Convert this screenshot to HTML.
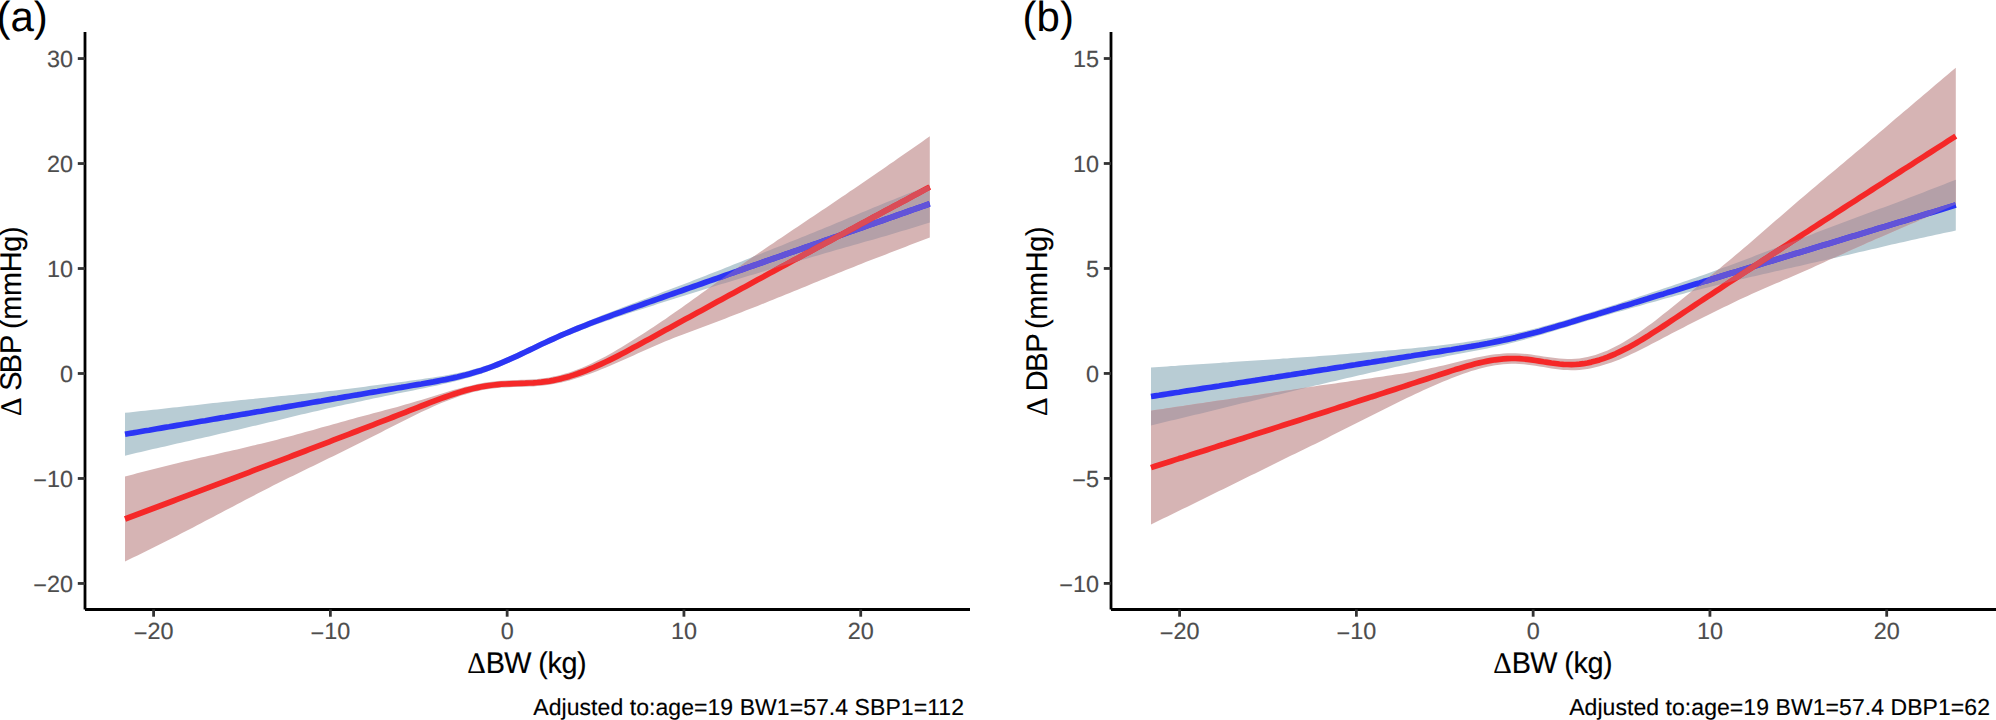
<!DOCTYPE html>
<html><head><meta charset="utf-8"><title>Figure</title>
<style>
html,body{margin:0;padding:0;background:#fff;}
body{width:1996px;height:720px;overflow:hidden;}
svg{display:block;text-rendering:geometricPrecision;}
text{font-family:"Liberation Sans",Arial,Helvetica,sans-serif;}
.ax{stroke:#000;stroke-width:2.8;stroke-linecap:butt;}
.tk{stroke:#333;stroke-width:2.8;stroke-linecap:butt;}
.yl{font-size:23.4px;fill:#4d4d4d;text-anchor:end;stroke:#4d4d4d;stroke-width:0.15px;}
.xl{font-size:23.4px;fill:#4d4d4d;text-anchor:middle;stroke:#4d4d4d;stroke-width:0.15px;}
.rb{fill:#4a7d95;fill-opacity:0.4;stroke:none;}
.rr{fill:#994444;fill-opacity:0.4;stroke:none;}
.lb{fill:none;stroke:#2b35f5;stroke-width:5.7;stroke-linejoin:round;stroke-linecap:butt;}
.lr{fill:none;stroke:#f52828;stroke-width:5.7;stroke-linejoin:round;stroke-linecap:butt;}
.tt{font-size:28.8px;fill:#000;stroke:#000;stroke-width:0.15px;}
.cap{font-size:23.0px;fill:#000;text-anchor:end;letter-spacing:0.06px;stroke:#000;stroke-width:0.15px;}
.tag{font-size:42.0px;fill:#000;}
</style></head>
<body>
<svg width="1996" height="720" viewBox="0 0 1996 720">
<defs><clipPath id="cba"><polygon points="125.0,412.8 129.0,412.4 133.0,412.0 137.0,411.5 141.0,411.1 145.0,410.7 149.0,410.3 153.0,409.8 157.0,409.4 161.0,409.0 165.0,408.5 169.0,408.1 173.0,407.6 177.1,407.2 181.1,406.7 185.1,406.3 189.1,405.8 193.1,405.4 197.1,404.9 201.1,404.5 205.1,404.0 209.1,403.6 213.1,403.1 217.1,402.7 221.1,402.3 225.1,401.8 229.1,401.4 233.1,401.0 237.1,400.6 241.1,400.1 245.1,399.7 249.1,399.3 253.1,398.9 257.1,398.5 261.1,398.1 265.1,397.7 269.1,397.3 273.1,396.9 277.2,396.5 281.2,396.1 285.2,395.7 289.2,395.3 293.2,394.9 297.2,394.5 301.2,394.1 305.2,393.7 309.2,393.3 313.2,392.9 317.2,392.4 321.2,392.0 325.2,391.6 329.2,391.1 333.2,390.7 337.2,390.2 341.2,389.7 345.2,389.2 349.2,388.7 353.2,388.2 357.2,387.7 361.2,387.2 365.2,386.7 369.2,386.1 373.2,385.6 377.3,385.1 381.3,384.6 385.3,384.0 389.3,383.5 393.3,383.0 397.3,382.5 401.3,381.9 405.3,381.4 409.3,380.8 413.3,380.3 417.3,379.8 421.3,379.2 425.3,378.6 429.3,378.1 433.3,377.5 437.3,376.8 441.3,376.2 445.3,375.5 449.3,374.8 453.3,374.0 457.3,373.2 461.3,372.3 465.3,371.4 469.3,370.4 473.3,369.3 477.4,368.2 481.4,367.0 485.4,365.7 489.4,364.4 493.4,362.9 497.4,361.4 501.4,359.8 505.4,358.1 509.4,356.4 513.4,354.6 517.4,352.7 521.4,350.9 525.4,349.0 529.4,347.1 533.4,345.2 537.4,343.3 541.4,341.4 545.4,339.5 549.4,337.6 553.4,335.8 557.4,334.0 561.4,332.2 565.4,330.4 569.4,328.7 573.4,327.0 577.4,325.3 581.5,323.7 585.5,322.0 589.5,320.4 593.5,318.8 597.5,317.2 601.5,315.6 605.5,314.0 609.5,312.5 613.5,310.9 617.5,309.4 621.5,307.8 625.5,306.3 629.5,304.8 633.5,303.3 637.5,301.7 641.5,300.2 645.5,298.7 649.5,297.2 653.5,295.7 657.5,294.2 661.5,292.6 665.5,291.1 669.5,289.6 673.5,288.1 677.5,286.5 681.6,285.0 685.6,283.4 689.6,281.9 693.6,280.3 697.6,278.8 701.6,277.2 705.6,275.7 709.6,274.1 713.6,272.5 717.6,270.9 721.6,269.4 725.6,267.8 729.6,266.2 733.6,264.6 737.6,263.0 741.6,261.4 745.6,259.8 749.6,258.2 753.6,256.6 757.6,255.0 761.6,253.4 765.6,251.8 769.6,250.2 773.6,248.6 777.6,247.0 781.7,245.4 785.7,243.7 789.7,242.1 793.7,240.5 797.7,238.9 801.7,237.3 805.7,235.7 809.7,234.1 813.7,232.4 817.7,230.8 821.7,229.2 825.7,227.5 829.7,225.9 833.7,224.2 837.7,222.6 841.7,220.9 845.7,219.3 849.7,217.6 853.7,215.9 857.7,214.2 861.7,212.6 865.7,210.9 869.7,209.2 873.7,207.6 877.7,205.9 881.8,204.3 885.8,202.6 889.8,201.0 893.8,199.4 897.8,197.8 901.8,196.2 905.8,194.6 909.8,193.0 913.8,191.4 917.8,189.8 921.8,188.2 925.8,186.6 929.8,185.0 929.8,222.6 925.8,223.8 921.8,225.1 917.8,226.3 913.8,227.5 909.8,228.7 905.8,229.9 901.8,231.1 897.8,232.3 893.8,233.5 889.8,234.7 885.8,235.9 881.8,237.0 877.7,238.2 873.7,239.4 869.7,240.5 865.7,241.6 861.7,242.8 857.7,243.9 853.7,245.0 849.7,246.2 845.7,247.3 841.7,248.4 837.7,249.6 833.7,250.7 829.7,251.9 825.7,253.0 821.7,254.2 817.7,255.4 813.7,256.5 809.7,257.7 805.7,258.9 801.7,260.1 797.7,261.3 793.7,262.5 789.7,263.7 785.7,264.8 781.7,266.0 777.6,267.2 773.6,268.4 769.6,269.6 765.6,270.8 761.6,272.0 757.6,273.2 753.6,274.4 749.6,275.6 745.6,276.8 741.6,278.0 737.6,279.2 733.6,280.4 729.6,281.7 725.6,282.9 721.6,284.1 717.6,285.3 713.6,286.5 709.6,287.7 705.6,289.0 701.6,290.2 697.6,291.5 693.6,292.7 689.6,294.0 685.6,295.2 681.6,296.5 677.5,297.7 673.5,299.0 669.5,300.3 665.5,301.5 661.5,302.8 657.5,304.1 653.5,305.4 649.5,306.7 645.5,308.0 641.5,309.2 637.5,310.5 633.5,311.8 629.5,313.1 625.5,314.5 621.5,315.8 617.5,317.1 613.5,318.5 609.5,319.9 605.5,321.3 601.5,322.7 597.5,324.1 593.5,325.6 589.5,327.0 585.5,328.6 581.5,330.1 577.4,331.7 573.4,333.3 569.4,334.9 565.4,336.6 561.4,338.3 557.4,340.0 553.4,341.8 549.4,343.6 545.4,345.4 541.4,347.3 537.4,349.2 533.4,351.1 529.4,353.1 525.4,355.0 521.4,356.9 517.4,358.8 513.4,360.6 509.4,362.5 505.4,364.3 501.4,366.0 497.4,367.7 493.4,369.3 489.4,370.8 485.4,372.3 481.4,373.7 477.4,375.0 473.3,376.3 469.3,377.5 465.3,378.6 461.3,379.7 457.3,380.7 453.3,381.7 449.3,382.7 445.3,383.6 441.3,384.5 437.3,385.4 433.3,386.2 429.3,387.1 425.3,387.9 421.3,388.7 417.3,389.5 413.3,390.4 409.3,391.2 405.3,392.0 401.3,392.8 397.3,393.6 393.3,394.5 389.3,395.3 385.3,396.1 381.3,397.0 377.3,397.8 373.2,398.6 369.2,399.5 365.2,400.3 361.2,401.2 357.2,402.0 353.2,402.9 349.2,403.7 345.2,404.6 341.2,405.4 337.2,406.3 333.2,407.2 329.2,408.1 325.2,409.0 321.2,409.9 317.2,410.9 313.2,411.8 309.2,412.7 305.2,413.7 301.2,414.6 297.2,415.6 293.2,416.5 289.2,417.5 285.2,418.5 281.2,419.4 277.2,420.4 273.1,421.4 269.1,422.3 265.1,423.3 261.1,424.2 257.1,425.2 253.1,426.1 249.1,427.1 245.1,428.0 241.1,429.0 237.1,429.9 233.1,430.8 229.1,431.8 225.1,432.7 221.1,433.6 217.1,434.6 213.1,435.5 209.1,436.4 205.1,437.3 201.1,438.2 197.1,439.1 193.1,440.0 189.1,440.9 185.1,441.8 181.1,442.7 177.1,443.6 173.0,444.5 169.0,445.4 165.0,446.4 161.0,447.3 157.0,448.2 153.0,449.1 149.0,450.0 145.0,451.0 141.0,451.9 137.0,452.8 133.0,453.8 129.0,454.7 125.0,455.7"/></clipPath><clipPath id="cra"><polygon points="125.0,476.5 129.0,475.4 133.0,474.4 137.0,473.3 141.0,472.3 145.0,471.2 149.0,470.2 153.0,469.2 157.0,468.2 161.0,467.2 165.0,466.2 169.0,465.2 173.0,464.2 177.1,463.2 181.1,462.3 185.1,461.3 189.1,460.4 193.1,459.5 197.1,458.5 201.1,457.6 205.1,456.7 209.1,455.8 213.1,454.9 217.1,454.0 221.1,453.0 225.1,452.1 229.1,451.2 233.1,450.3 237.1,449.4 241.1,448.4 245.1,447.5 249.1,446.6 253.1,445.6 257.1,444.6 261.1,443.7 265.1,442.7 269.1,441.7 273.1,440.7 277.2,439.7 281.2,438.6 285.2,437.6 289.2,436.5 293.2,435.4 297.2,434.3 301.2,433.2 305.2,432.1 309.2,431.0 313.2,429.9 317.2,428.8 321.2,427.6 325.2,426.5 329.2,425.4 333.2,424.3 337.2,423.2 341.2,422.0 345.2,420.9 349.2,419.8 353.2,418.7 357.2,417.6 361.2,416.5 365.2,415.5 369.2,414.4 373.2,413.3 377.3,412.2 381.3,411.2 385.3,410.1 389.3,409.0 393.3,407.9 397.3,406.9 401.3,405.7 405.3,404.6 409.3,403.5 413.3,402.3 417.3,401.1 421.3,399.9 425.3,398.7 429.3,397.5 433.3,396.2 437.3,395.0 441.3,393.7 445.3,392.5 449.3,391.3 453.3,390.1 457.3,389.0 461.3,387.9 465.3,386.8 469.3,385.9 473.3,384.9 477.4,384.1 481.4,383.3 485.4,382.6 489.4,382.0 493.4,381.5 497.4,381.1 501.4,380.8 505.4,380.6 509.4,380.3 513.4,380.2 517.4,380.0 521.4,379.8 525.4,379.7 529.4,379.4 533.4,379.2 537.4,378.9 541.4,378.5 545.4,378.0 549.4,377.4 553.4,376.6 557.4,375.7 561.4,374.7 565.4,373.6 569.4,372.4 573.4,371.0 577.4,369.5 581.5,367.9 585.5,366.3 589.5,364.5 593.5,362.6 597.5,360.6 601.5,358.5 605.5,356.4 609.5,354.2 613.5,351.9 617.5,349.6 621.5,347.2 625.5,344.8 629.5,342.3 633.5,339.8 637.5,337.3 641.5,334.8 645.5,332.2 649.5,329.6 653.5,326.9 657.5,324.3 661.5,321.6 665.5,318.9 669.5,316.1 673.5,313.3 677.5,310.5 681.6,307.7 685.6,304.8 689.6,301.9 693.6,299.1 697.6,296.2 701.6,293.3 705.6,290.4 709.6,287.6 713.6,284.7 717.6,281.8 721.6,279.0 725.6,276.2 729.6,273.3 733.6,270.5 737.6,267.7 741.6,264.9 745.6,262.1 749.6,259.3 753.6,256.5 757.6,253.8 761.6,251.0 765.6,248.3 769.6,245.6 773.6,242.9 777.6,240.1 781.7,237.4 785.7,234.7 789.7,232.0 793.7,229.3 797.7,226.7 801.7,224.0 805.7,221.3 809.7,218.6 813.7,215.9 817.7,213.2 821.7,210.6 825.7,207.9 829.7,205.2 833.7,202.5 837.7,199.8 841.7,197.1 845.7,194.4 849.7,191.6 853.7,188.9 857.7,186.2 861.7,183.4 865.7,180.7 869.7,178.0 873.7,175.2 877.7,172.4 881.8,169.7 885.8,166.9 889.8,164.1 893.8,161.4 897.8,158.6 901.8,155.8 905.8,153.0 909.8,150.3 913.8,147.5 917.8,144.7 921.8,141.9 925.8,139.1 929.8,136.3 929.8,237.5 925.8,239.0 921.8,240.6 917.8,242.1 913.8,243.6 909.8,245.1 905.8,246.7 901.8,248.2 897.8,249.7 893.8,251.3 889.8,252.8 885.8,254.4 881.8,255.9 877.7,257.5 873.7,259.0 869.7,260.6 865.7,262.1 861.7,263.7 857.7,265.3 853.7,266.9 849.7,268.5 845.7,270.1 841.7,271.7 837.7,273.3 833.7,274.9 829.7,276.5 825.7,278.2 821.7,279.8 817.7,281.4 813.7,283.1 809.7,284.7 805.7,286.4 801.7,288.0 797.7,289.7 793.7,291.3 789.7,292.9 785.7,294.6 781.7,296.2 777.6,297.8 773.6,299.5 769.6,301.1 765.6,302.7 761.6,304.3 757.6,305.9 753.6,307.5 749.6,309.1 745.6,310.6 741.6,312.2 737.6,313.8 733.6,315.3 729.6,316.8 725.6,318.4 721.6,319.9 717.6,321.4 713.6,322.9 709.6,324.4 705.6,325.9 701.6,327.4 697.6,328.9 693.6,330.4 689.6,331.9 685.6,333.4 681.6,334.9 677.5,336.5 673.5,338.1 669.5,339.7 665.5,341.3 661.5,343.0 657.5,344.7 653.5,346.4 649.5,348.2 645.5,350.0 641.5,351.8 637.5,353.6 633.5,355.4 629.5,357.3 625.5,359.1 621.5,360.8 617.5,362.6 613.5,364.3 609.5,366.0 605.5,367.7 601.5,369.3 597.5,370.9 593.5,372.4 589.5,373.9 585.5,375.3 581.5,376.7 577.4,378.0 573.4,379.2 569.4,380.4 565.4,381.5 561.4,382.4 557.4,383.3 553.4,384.1 549.4,384.8 545.4,385.3 541.4,385.7 537.4,386.1 533.4,386.4 529.4,386.6 525.4,386.7 521.4,386.8 517.4,387.0 513.4,387.1 509.4,387.2 505.4,387.4 501.4,387.6 497.4,388.0 493.4,388.4 489.4,388.9 485.4,389.5 481.4,390.3 477.4,391.2 473.3,392.1 469.3,393.2 465.3,394.4 461.3,395.6 457.3,397.0 453.3,398.4 449.3,399.9 445.3,401.5 441.3,403.1 437.3,404.8 433.3,406.6 429.3,408.4 425.3,410.2 421.3,412.1 417.3,414.1 413.3,416.0 409.3,418.0 405.3,420.0 401.3,422.0 397.3,424.0 393.3,426.0 389.3,428.1 385.3,430.1 381.3,432.2 377.3,434.2 373.2,436.2 369.2,438.3 365.2,440.3 361.2,442.3 357.2,444.3 353.2,446.3 349.2,448.3 345.2,450.3 341.2,452.3 337.2,454.2 333.2,456.2 329.2,458.1 325.2,460.1 321.2,462.0 317.2,464.0 313.2,465.9 309.2,467.8 305.2,469.8 301.2,471.7 297.2,473.7 293.2,475.7 289.2,477.6 285.2,479.6 281.2,481.6 277.2,483.6 273.1,485.6 269.1,487.7 265.1,489.7 261.1,491.8 257.1,493.8 253.1,495.9 249.1,498.0 245.1,500.1 241.1,502.2 237.1,504.3 233.1,506.4 229.1,508.5 225.1,510.6 221.1,512.7 217.1,514.8 213.1,516.9 209.1,519.0 205.1,521.1 201.1,523.2 197.1,525.3 193.1,527.4 189.1,529.5 185.1,531.5 181.1,533.6 177.1,535.7 173.0,537.7 169.0,539.7 165.0,541.8 161.0,543.8 157.0,545.8 153.0,547.8 149.0,549.7 145.0,551.7 141.0,553.7 137.0,555.7 133.0,557.6 129.0,559.6 125.0,561.6"/></clipPath><clipPath id="cbb"><polygon points="125.0,367.5 129.0,367.2 133.0,367.0 137.0,366.7 141.0,366.4 145.0,366.1 149.0,365.9 153.0,365.6 157.0,365.3 161.0,365.1 165.0,364.8 169.0,364.5 173.0,364.3 177.1,364.0 181.1,363.7 185.1,363.5 189.1,363.2 193.1,362.9 197.1,362.6 201.1,362.4 205.1,362.1 209.1,361.8 213.1,361.6 217.1,361.3 221.1,361.0 225.1,360.8 229.1,360.5 233.1,360.2 237.1,360.0 241.1,359.7 245.1,359.4 249.1,359.2 253.1,358.9 257.1,358.6 261.1,358.4 265.1,358.1 269.1,357.8 273.1,357.5 277.2,357.3 281.2,357.0 285.2,356.7 289.2,356.4 293.2,356.1 297.2,355.8 301.2,355.5 305.2,355.2 309.2,354.9 313.2,354.6 317.2,354.3 321.2,354.0 325.2,353.6 329.2,353.3 333.2,353.0 337.2,352.6 341.2,352.3 345.2,352.0 349.2,351.6 353.2,351.3 357.2,350.9 361.2,350.6 365.2,350.2 369.2,349.9 373.2,349.5 377.3,349.1 381.3,348.8 385.3,348.4 389.3,348.0 393.3,347.6 397.3,347.2 401.3,346.8 405.3,346.3 409.3,345.9 413.3,345.4 417.3,345.0 421.3,344.5 425.3,344.0 429.3,343.5 433.3,342.9 437.3,342.4 441.3,341.8 445.3,341.2 449.3,340.6 453.3,339.9 457.3,339.3 461.3,338.6 465.3,337.9 469.3,337.2 473.3,336.4 477.4,335.6 481.4,334.8 485.4,334.0 489.4,333.2 493.4,332.3 497.4,331.4 501.4,330.4 505.4,329.4 509.4,328.4 513.4,327.4 517.4,326.3 521.4,325.2 525.4,324.1 529.4,323.0 533.4,321.8 537.4,320.7 541.4,319.5 545.4,318.3 549.4,317.1 553.4,315.8 557.4,314.6 561.4,313.4 565.4,312.1 569.4,310.9 573.4,309.6 577.4,308.3 581.5,307.1 585.5,305.8 589.5,304.5 593.5,303.2 597.5,301.8 601.5,300.5 605.5,299.2 609.5,297.9 613.5,296.6 617.5,295.2 621.5,293.9 625.5,292.6 629.5,291.2 633.5,289.9 637.5,288.6 641.5,287.2 645.5,285.9 649.5,284.6 653.5,283.2 657.5,281.8 661.5,280.5 665.5,279.1 669.5,277.7 673.5,276.3 677.5,274.9 681.6,273.4 685.6,272.0 689.6,270.6 693.6,269.1 697.6,267.6 701.6,266.2 705.6,264.7 709.6,263.2 713.6,261.7 717.6,260.2 721.6,258.7 725.6,257.2 729.6,255.6 733.6,254.1 737.6,252.6 741.6,251.1 745.6,249.6 749.6,248.1 753.6,246.5 757.6,245.0 761.6,243.5 765.6,242.0 769.6,240.4 773.6,238.9 777.6,237.4 781.7,235.9 785.7,234.4 789.7,232.8 793.7,231.3 797.7,229.8 801.7,228.3 805.7,226.8 809.7,225.3 813.7,223.8 817.7,222.3 821.7,220.8 825.7,219.3 829.7,217.8 833.7,216.3 837.7,214.8 841.7,213.3 845.7,211.8 849.7,210.3 853.7,208.8 857.7,207.4 861.7,205.9 865.7,204.4 869.7,202.9 873.7,201.4 877.7,199.9 881.8,198.3 885.8,196.8 889.8,195.3 893.8,193.7 897.8,192.2 901.8,190.6 905.8,189.1 909.8,187.5 913.8,185.9 917.8,184.4 921.8,182.8 925.8,181.2 929.8,179.7 929.8,230.6 925.8,231.4 921.8,232.3 917.8,233.1 913.8,234.0 909.8,234.8 905.8,235.7 901.8,236.5 897.8,237.4 893.8,238.3 889.8,239.2 885.8,240.1 881.8,241.0 877.7,241.9 873.7,242.8 869.7,243.7 865.7,244.6 861.7,245.6 857.7,246.5 853.7,247.4 849.7,248.4 845.7,249.3 841.7,250.2 837.7,251.2 833.7,252.1 829.7,253.1 825.7,254.0 821.7,254.9 817.7,255.8 813.7,256.8 809.7,257.7 805.7,258.6 801.7,259.5 797.7,260.4 793.7,261.3 789.7,262.2 785.7,263.1 781.7,264.1 777.6,265.0 773.6,265.9 769.6,266.8 765.6,267.7 761.6,268.6 757.6,269.5 753.6,270.4 749.6,271.3 745.6,272.3 741.6,273.2 737.6,274.1 733.6,275.0 729.6,275.9 725.6,276.8 721.6,277.8 717.6,278.7 713.6,279.6 709.6,280.6 705.6,281.5 701.6,282.5 697.6,283.4 693.6,284.4 689.6,285.4 685.6,286.4 681.6,287.4 677.5,288.4 673.5,289.4 669.5,290.5 665.5,291.5 661.5,292.6 657.5,293.7 653.5,294.7 649.5,295.8 645.5,296.9 641.5,298.0 637.5,299.1 633.5,300.3 629.5,301.4 625.5,302.5 621.5,303.6 617.5,304.7 613.5,305.9 609.5,307.0 605.5,308.1 601.5,309.2 597.5,310.4 593.5,311.5 589.5,312.6 585.5,313.8 581.5,314.9 577.4,316.1 573.4,317.3 569.4,318.4 565.4,319.6 561.4,320.8 557.4,322.0 553.4,323.2 549.4,324.4 545.4,325.6 541.4,326.9 537.4,328.1 533.4,329.3 529.4,330.5 525.4,331.7 521.4,333.0 517.4,334.2 513.4,335.3 509.4,336.5 505.4,337.7 501.4,338.8 497.4,339.9 493.4,341.0 489.4,342.0 485.4,343.0 481.4,344.0 477.4,344.9 473.3,345.8 469.3,346.7 465.3,347.5 461.3,348.4 457.3,349.2 453.3,350.0 449.3,350.8 445.3,351.5 441.3,352.3 437.3,353.0 433.3,353.8 429.3,354.6 425.3,355.3 421.3,356.1 417.3,356.9 413.3,357.7 409.3,358.5 405.3,359.3 401.3,360.1 397.3,361.0 393.3,361.8 389.3,362.7 385.3,363.6 381.3,364.5 377.3,365.3 373.2,366.2 369.2,367.1 365.2,368.0 361.2,368.9 357.2,369.8 353.2,370.8 349.2,371.7 345.2,372.6 341.2,373.5 337.2,374.4 333.2,375.3 329.2,376.2 325.2,377.2 321.2,378.1 317.2,379.0 313.2,380.0 309.2,380.9 305.2,381.8 301.2,382.8 297.2,383.7 293.2,384.7 289.2,385.6 285.2,386.6 281.2,387.6 277.2,388.5 273.1,389.5 269.1,390.5 265.1,391.4 261.1,392.4 257.1,393.4 253.1,394.4 249.1,395.3 245.1,396.3 241.1,397.3 237.1,398.3 233.1,399.2 229.1,400.2 225.1,401.2 221.1,402.2 217.1,403.1 213.1,404.1 209.1,405.1 205.1,406.1 201.1,407.0 197.1,408.0 193.1,409.0 189.1,410.0 185.1,410.9 181.1,411.9 177.1,412.9 173.0,413.9 169.0,414.8 165.0,415.8 161.0,416.8 157.0,417.7 153.0,418.7 149.0,419.7 145.0,420.6 141.0,421.6 137.0,422.6 133.0,423.6 129.0,424.5 125.0,425.5"/></clipPath><clipPath id="crb"><polygon points="125.0,410.7 129.0,410.1 133.0,409.5 137.0,408.9 141.0,408.3 145.0,407.7 149.0,407.1 153.0,406.5 157.0,405.9 161.0,405.3 165.0,404.7 169.0,404.1 173.0,403.5 177.1,402.9 181.1,402.3 185.1,401.7 189.1,401.1 193.1,400.6 197.1,400.0 201.1,399.4 205.1,398.8 209.1,398.2 213.1,397.6 217.1,397.0 221.1,396.4 225.1,395.9 229.1,395.3 233.1,394.7 237.1,394.1 241.1,393.5 245.1,392.9 249.1,392.3 253.1,391.7 257.1,391.1 261.1,390.5 265.1,389.9 269.1,389.3 273.1,388.7 277.2,388.0 281.2,387.4 285.2,386.8 289.2,386.2 293.2,385.6 297.2,385.1 301.2,384.5 305.2,383.9 309.2,383.4 313.2,382.8 317.2,382.2 321.2,381.7 325.2,381.1 329.2,380.5 333.2,379.9 337.2,379.3 341.2,378.8 345.2,378.2 349.2,377.6 353.2,377.0 357.2,376.4 361.2,375.8 365.2,375.2 369.2,374.6 373.2,374.0 377.3,373.4 381.3,372.7 385.3,372.0 389.3,371.3 393.3,370.5 397.3,369.7 401.3,368.9 405.3,368.1 409.3,367.2 413.3,366.3 417.3,365.4 421.3,364.4 425.3,363.4 429.3,362.5 433.3,361.5 437.3,360.5 441.3,359.6 445.3,358.7 449.3,357.8 453.3,356.9 457.3,356.2 461.3,355.5 465.3,354.8 469.3,354.3 473.3,353.9 477.4,353.5 481.4,353.3 485.4,353.2 489.4,353.2 493.4,353.4 497.4,353.7 501.4,354.1 505.4,354.6 509.4,355.2 513.4,355.8 517.4,356.4 521.4,357.0 525.4,357.6 529.4,358.1 533.4,358.5 537.4,358.8 541.4,359.0 545.4,359.0 549.4,358.8 553.4,358.4 557.4,357.8 561.4,357.1 565.4,356.1 569.4,354.9 573.4,353.6 577.4,352.1 581.5,350.4 585.5,348.5 589.5,346.5 593.5,344.4 597.5,342.2 601.5,339.8 605.5,337.3 609.5,334.7 613.5,332.0 617.5,329.2 621.5,326.3 625.5,323.4 629.5,320.4 633.5,317.3 637.5,314.1 641.5,310.9 645.5,307.7 649.5,304.5 653.5,301.2 657.5,298.0 661.5,294.7 665.5,291.4 669.5,288.1 673.5,284.8 677.5,281.5 681.6,278.2 685.6,275.0 689.6,271.7 693.6,268.4 697.6,265.0 701.6,261.7 705.6,258.4 709.6,255.0 713.6,251.7 717.6,248.3 721.6,244.9 725.6,241.4 729.6,238.0 733.6,234.6 737.6,231.1 741.6,227.6 745.6,224.1 749.6,220.6 753.6,217.2 757.6,213.7 761.6,210.2 765.6,206.7 769.6,203.2 773.6,199.8 777.6,196.4 781.7,193.0 785.7,189.6 789.7,186.2 793.7,182.8 797.7,179.4 801.7,176.1 805.7,172.7 809.7,169.4 813.7,166.0 817.7,162.7 821.7,159.3 825.7,156.0 829.7,152.6 833.7,149.2 837.7,145.9 841.7,142.5 845.7,139.1 849.7,135.7 853.7,132.3 857.7,128.9 861.7,125.5 865.7,122.0 869.7,118.6 873.7,115.2 877.7,111.8 881.8,108.4 885.8,105.0 889.8,101.6 893.8,98.2 897.8,94.8 901.8,91.4 905.8,88.0 909.8,84.6 913.8,81.2 917.8,77.8 921.8,74.4 925.8,71.0 929.8,67.7 929.8,204.5 925.8,206.2 921.8,208.0 917.8,209.7 913.8,211.4 909.8,213.2 905.8,214.9 901.8,216.7 897.8,218.4 893.8,220.1 889.8,221.9 885.8,223.6 881.8,225.3 877.7,227.0 873.7,228.8 869.7,230.5 865.7,232.2 861.7,233.9 857.7,235.7 853.7,237.4 849.7,239.1 845.7,240.9 841.7,242.6 837.7,244.4 833.7,246.2 829.7,248.0 825.7,249.8 821.7,251.6 817.7,253.4 813.7,255.2 809.7,257.0 805.7,258.8 801.7,260.6 797.7,262.5 793.7,264.3 789.7,266.1 785.7,267.9 781.7,269.7 777.6,271.4 773.6,273.2 769.6,274.9 765.6,276.7 761.6,278.4 757.6,280.1 753.6,281.9 749.6,283.6 745.6,285.3 741.6,287.0 737.6,288.8 733.6,290.5 729.6,292.3 725.6,294.1 721.6,295.9 717.6,297.8 713.6,299.6 709.6,301.5 705.6,303.4 701.6,305.4 697.6,307.3 693.6,309.3 689.6,311.2 685.6,313.2 681.6,315.2 677.5,317.2 673.5,319.2 669.5,321.3 665.5,323.3 661.5,325.3 657.5,327.4 653.5,329.4 649.5,331.5 645.5,333.6 641.5,335.7 637.5,337.8 633.5,339.9 629.5,342.0 625.5,344.1 621.5,346.2 617.5,348.2 613.5,350.2 609.5,352.2 605.5,354.1 601.5,356.0 597.5,357.7 593.5,359.4 589.5,361.0 585.5,362.5 581.5,363.8 577.4,365.1 573.4,366.3 569.4,367.3 565.4,368.2 561.4,368.9 557.4,369.5 553.4,370.0 549.4,370.2 545.4,370.2 541.4,370.1 537.4,369.9 533.4,369.5 529.4,369.0 525.4,368.4 521.4,367.8 517.4,367.1 513.4,366.5 509.4,365.8 505.4,365.2 501.4,364.7 497.4,364.3 493.4,364.0 489.4,363.8 485.4,363.8 481.4,364.0 477.4,364.3 473.3,364.7 469.3,365.3 465.3,366.0 461.3,366.8 457.3,367.7 453.3,368.8 449.3,369.9 445.3,371.1 441.3,372.4 437.3,373.8 433.3,375.3 429.3,376.8 425.3,378.3 421.3,380.0 417.3,381.6 413.3,383.3 409.3,385.0 405.3,386.8 401.3,388.5 397.3,390.3 393.3,392.2 389.3,394.0 385.3,395.9 381.3,397.8 377.3,399.7 373.2,401.7 369.2,403.7 365.2,405.7 361.2,407.7 357.2,409.7 353.2,411.7 349.2,413.7 345.2,415.7 341.2,417.7 337.2,419.7 333.2,421.7 329.2,423.7 325.2,425.7 321.2,427.8 317.2,429.8 313.2,431.8 309.2,433.8 305.2,435.8 301.2,437.9 297.2,439.9 293.2,441.9 289.2,443.9 285.2,445.8 281.2,447.8 277.2,449.8 273.1,451.7 269.1,453.7 265.1,455.6 261.1,457.6 257.1,459.5 253.1,461.5 249.1,463.5 245.1,465.5 241.1,467.4 237.1,469.4 233.1,471.4 229.1,473.4 225.1,475.3 221.1,477.3 217.1,479.3 213.1,481.3 209.1,483.2 205.1,485.2 201.1,487.2 197.1,489.2 193.1,491.1 189.1,493.1 185.1,495.1 181.1,497.0 177.1,499.0 173.0,501.0 169.0,502.9 165.0,504.9 161.0,506.9 157.0,508.8 153.0,510.8 149.0,512.7 145.0,514.7 141.0,516.7 137.0,518.6 133.0,520.6 129.0,522.5 125.0,524.5"/></clipPath></defs>
<g transform="translate(0,0)"><polygon points="125.0,412.8 129.0,412.4 133.0,412.0 137.0,411.5 141.0,411.1 145.0,410.7 149.0,410.3 153.0,409.8 157.0,409.4 161.0,409.0 165.0,408.5 169.0,408.1 173.0,407.6 177.1,407.2 181.1,406.7 185.1,406.3 189.1,405.8 193.1,405.4 197.1,404.9 201.1,404.5 205.1,404.0 209.1,403.6 213.1,403.1 217.1,402.7 221.1,402.3 225.1,401.8 229.1,401.4 233.1,401.0 237.1,400.6 241.1,400.1 245.1,399.7 249.1,399.3 253.1,398.9 257.1,398.5 261.1,398.1 265.1,397.7 269.1,397.3 273.1,396.9 277.2,396.5 281.2,396.1 285.2,395.7 289.2,395.3 293.2,394.9 297.2,394.5 301.2,394.1 305.2,393.7 309.2,393.3 313.2,392.9 317.2,392.4 321.2,392.0 325.2,391.6 329.2,391.1 333.2,390.7 337.2,390.2 341.2,389.7 345.2,389.2 349.2,388.7 353.2,388.2 357.2,387.7 361.2,387.2 365.2,386.7 369.2,386.1 373.2,385.6 377.3,385.1 381.3,384.6 385.3,384.0 389.3,383.5 393.3,383.0 397.3,382.5 401.3,381.9 405.3,381.4 409.3,380.8 413.3,380.3 417.3,379.8 421.3,379.2 425.3,378.6 429.3,378.1 433.3,377.5 437.3,376.8 441.3,376.2 445.3,375.5 449.3,374.8 453.3,374.0 457.3,373.2 461.3,372.3 465.3,371.4 469.3,370.4 473.3,369.3 477.4,368.2 481.4,367.0 485.4,365.7 489.4,364.4 493.4,362.9 497.4,361.4 501.4,359.8 505.4,358.1 509.4,356.4 513.4,354.6 517.4,352.7 521.4,350.9 525.4,349.0 529.4,347.1 533.4,345.2 537.4,343.3 541.4,341.4 545.4,339.5 549.4,337.6 553.4,335.8 557.4,334.0 561.4,332.2 565.4,330.4 569.4,328.7 573.4,327.0 577.4,325.3 581.5,323.7 585.5,322.0 589.5,320.4 593.5,318.8 597.5,317.2 601.5,315.6 605.5,314.0 609.5,312.5 613.5,310.9 617.5,309.4 621.5,307.8 625.5,306.3 629.5,304.8 633.5,303.3 637.5,301.7 641.5,300.2 645.5,298.7 649.5,297.2 653.5,295.7 657.5,294.2 661.5,292.6 665.5,291.1 669.5,289.6 673.5,288.1 677.5,286.5 681.6,285.0 685.6,283.4 689.6,281.9 693.6,280.3 697.6,278.8 701.6,277.2 705.6,275.7 709.6,274.1 713.6,272.5 717.6,270.9 721.6,269.4 725.6,267.8 729.6,266.2 733.6,264.6 737.6,263.0 741.6,261.4 745.6,259.8 749.6,258.2 753.6,256.6 757.6,255.0 761.6,253.4 765.6,251.8 769.6,250.2 773.6,248.6 777.6,247.0 781.7,245.4 785.7,243.7 789.7,242.1 793.7,240.5 797.7,238.9 801.7,237.3 805.7,235.7 809.7,234.1 813.7,232.4 817.7,230.8 821.7,229.2 825.7,227.5 829.7,225.9 833.7,224.2 837.7,222.6 841.7,220.9 845.7,219.3 849.7,217.6 853.7,215.9 857.7,214.2 861.7,212.6 865.7,210.9 869.7,209.2 873.7,207.6 877.7,205.9 881.8,204.3 885.8,202.6 889.8,201.0 893.8,199.4 897.8,197.8 901.8,196.2 905.8,194.6 909.8,193.0 913.8,191.4 917.8,189.8 921.8,188.2 925.8,186.6 929.8,185.0 929.8,222.6 925.8,223.8 921.8,225.1 917.8,226.3 913.8,227.5 909.8,228.7 905.8,229.9 901.8,231.1 897.8,232.3 893.8,233.5 889.8,234.7 885.8,235.9 881.8,237.0 877.7,238.2 873.7,239.4 869.7,240.5 865.7,241.6 861.7,242.8 857.7,243.9 853.7,245.0 849.7,246.2 845.7,247.3 841.7,248.4 837.7,249.6 833.7,250.7 829.7,251.9 825.7,253.0 821.7,254.2 817.7,255.4 813.7,256.5 809.7,257.7 805.7,258.9 801.7,260.1 797.7,261.3 793.7,262.5 789.7,263.7 785.7,264.8 781.7,266.0 777.6,267.2 773.6,268.4 769.6,269.6 765.6,270.8 761.6,272.0 757.6,273.2 753.6,274.4 749.6,275.6 745.6,276.8 741.6,278.0 737.6,279.2 733.6,280.4 729.6,281.7 725.6,282.9 721.6,284.1 717.6,285.3 713.6,286.5 709.6,287.7 705.6,289.0 701.6,290.2 697.6,291.5 693.6,292.7 689.6,294.0 685.6,295.2 681.6,296.5 677.5,297.7 673.5,299.0 669.5,300.3 665.5,301.5 661.5,302.8 657.5,304.1 653.5,305.4 649.5,306.7 645.5,308.0 641.5,309.2 637.5,310.5 633.5,311.8 629.5,313.1 625.5,314.5 621.5,315.8 617.5,317.1 613.5,318.5 609.5,319.9 605.5,321.3 601.5,322.7 597.5,324.1 593.5,325.6 589.5,327.0 585.5,328.6 581.5,330.1 577.4,331.7 573.4,333.3 569.4,334.9 565.4,336.6 561.4,338.3 557.4,340.0 553.4,341.8 549.4,343.6 545.4,345.4 541.4,347.3 537.4,349.2 533.4,351.1 529.4,353.1 525.4,355.0 521.4,356.9 517.4,358.8 513.4,360.6 509.4,362.5 505.4,364.3 501.4,366.0 497.4,367.7 493.4,369.3 489.4,370.8 485.4,372.3 481.4,373.7 477.4,375.0 473.3,376.3 469.3,377.5 465.3,378.6 461.3,379.7 457.3,380.7 453.3,381.7 449.3,382.7 445.3,383.6 441.3,384.5 437.3,385.4 433.3,386.2 429.3,387.1 425.3,387.9 421.3,388.7 417.3,389.5 413.3,390.4 409.3,391.2 405.3,392.0 401.3,392.8 397.3,393.6 393.3,394.5 389.3,395.3 385.3,396.1 381.3,397.0 377.3,397.8 373.2,398.6 369.2,399.5 365.2,400.3 361.2,401.2 357.2,402.0 353.2,402.9 349.2,403.7 345.2,404.6 341.2,405.4 337.2,406.3 333.2,407.2 329.2,408.1 325.2,409.0 321.2,409.9 317.2,410.9 313.2,411.8 309.2,412.7 305.2,413.7 301.2,414.6 297.2,415.6 293.2,416.5 289.2,417.5 285.2,418.5 281.2,419.4 277.2,420.4 273.1,421.4 269.1,422.3 265.1,423.3 261.1,424.2 257.1,425.2 253.1,426.1 249.1,427.1 245.1,428.0 241.1,429.0 237.1,429.9 233.1,430.8 229.1,431.8 225.1,432.7 221.1,433.6 217.1,434.6 213.1,435.5 209.1,436.4 205.1,437.3 201.1,438.2 197.1,439.1 193.1,440.0 189.1,440.9 185.1,441.8 181.1,442.7 177.1,443.6 173.0,444.5 169.0,445.4 165.0,446.4 161.0,447.3 157.0,448.2 153.0,449.1 149.0,450.0 145.0,451.0 141.0,451.9 137.0,452.8 133.0,453.8 129.0,454.7 125.0,455.7" fill="#b8ccd4"/><polygon points="125.0,476.5 129.0,475.4 133.0,474.4 137.0,473.3 141.0,472.3 145.0,471.2 149.0,470.2 153.0,469.2 157.0,468.2 161.0,467.2 165.0,466.2 169.0,465.2 173.0,464.2 177.1,463.2 181.1,462.3 185.1,461.3 189.1,460.4 193.1,459.5 197.1,458.5 201.1,457.6 205.1,456.7 209.1,455.8 213.1,454.9 217.1,454.0 221.1,453.0 225.1,452.1 229.1,451.2 233.1,450.3 237.1,449.4 241.1,448.4 245.1,447.5 249.1,446.6 253.1,445.6 257.1,444.6 261.1,443.7 265.1,442.7 269.1,441.7 273.1,440.7 277.2,439.7 281.2,438.6 285.2,437.6 289.2,436.5 293.2,435.4 297.2,434.3 301.2,433.2 305.2,432.1 309.2,431.0 313.2,429.9 317.2,428.8 321.2,427.6 325.2,426.5 329.2,425.4 333.2,424.3 337.2,423.2 341.2,422.0 345.2,420.9 349.2,419.8 353.2,418.7 357.2,417.6 361.2,416.5 365.2,415.5 369.2,414.4 373.2,413.3 377.3,412.2 381.3,411.2 385.3,410.1 389.3,409.0 393.3,407.9 397.3,406.9 401.3,405.7 405.3,404.6 409.3,403.5 413.3,402.3 417.3,401.1 421.3,399.9 425.3,398.7 429.3,397.5 433.3,396.2 437.3,395.0 441.3,393.7 445.3,392.5 449.3,391.3 453.3,390.1 457.3,389.0 461.3,387.9 465.3,386.8 469.3,385.9 473.3,384.9 477.4,384.1 481.4,383.3 485.4,382.6 489.4,382.0 493.4,381.5 497.4,381.1 501.4,380.8 505.4,380.6 509.4,380.3 513.4,380.2 517.4,380.0 521.4,379.8 525.4,379.7 529.4,379.4 533.4,379.2 537.4,378.9 541.4,378.5 545.4,378.0 549.4,377.4 553.4,376.6 557.4,375.7 561.4,374.7 565.4,373.6 569.4,372.4 573.4,371.0 577.4,369.5 581.5,367.9 585.5,366.3 589.5,364.5 593.5,362.6 597.5,360.6 601.5,358.5 605.5,356.4 609.5,354.2 613.5,351.9 617.5,349.6 621.5,347.2 625.5,344.8 629.5,342.3 633.5,339.8 637.5,337.3 641.5,334.8 645.5,332.2 649.5,329.6 653.5,326.9 657.5,324.3 661.5,321.6 665.5,318.9 669.5,316.1 673.5,313.3 677.5,310.5 681.6,307.7 685.6,304.8 689.6,301.9 693.6,299.1 697.6,296.2 701.6,293.3 705.6,290.4 709.6,287.6 713.6,284.7 717.6,281.8 721.6,279.0 725.6,276.2 729.6,273.3 733.6,270.5 737.6,267.7 741.6,264.9 745.6,262.1 749.6,259.3 753.6,256.5 757.6,253.8 761.6,251.0 765.6,248.3 769.6,245.6 773.6,242.9 777.6,240.1 781.7,237.4 785.7,234.7 789.7,232.0 793.7,229.3 797.7,226.7 801.7,224.0 805.7,221.3 809.7,218.6 813.7,215.9 817.7,213.2 821.7,210.6 825.7,207.9 829.7,205.2 833.7,202.5 837.7,199.8 841.7,197.1 845.7,194.4 849.7,191.6 853.7,188.9 857.7,186.2 861.7,183.4 865.7,180.7 869.7,178.0 873.7,175.2 877.7,172.4 881.8,169.7 885.8,166.9 889.8,164.1 893.8,161.4 897.8,158.6 901.8,155.8 905.8,153.0 909.8,150.3 913.8,147.5 917.8,144.7 921.8,141.9 925.8,139.1 929.8,136.3 929.8,237.5 925.8,239.0 921.8,240.6 917.8,242.1 913.8,243.6 909.8,245.1 905.8,246.7 901.8,248.2 897.8,249.7 893.8,251.3 889.8,252.8 885.8,254.4 881.8,255.9 877.7,257.5 873.7,259.0 869.7,260.6 865.7,262.1 861.7,263.7 857.7,265.3 853.7,266.9 849.7,268.5 845.7,270.1 841.7,271.7 837.7,273.3 833.7,274.9 829.7,276.5 825.7,278.2 821.7,279.8 817.7,281.4 813.7,283.1 809.7,284.7 805.7,286.4 801.7,288.0 797.7,289.7 793.7,291.3 789.7,292.9 785.7,294.6 781.7,296.2 777.6,297.8 773.6,299.5 769.6,301.1 765.6,302.7 761.6,304.3 757.6,305.9 753.6,307.5 749.6,309.1 745.6,310.6 741.6,312.2 737.6,313.8 733.6,315.3 729.6,316.8 725.6,318.4 721.6,319.9 717.6,321.4 713.6,322.9 709.6,324.4 705.6,325.9 701.6,327.4 697.6,328.9 693.6,330.4 689.6,331.9 685.6,333.4 681.6,334.9 677.5,336.5 673.5,338.1 669.5,339.7 665.5,341.3 661.5,343.0 657.5,344.7 653.5,346.4 649.5,348.2 645.5,350.0 641.5,351.8 637.5,353.6 633.5,355.4 629.5,357.3 625.5,359.1 621.5,360.8 617.5,362.6 613.5,364.3 609.5,366.0 605.5,367.7 601.5,369.3 597.5,370.9 593.5,372.4 589.5,373.9 585.5,375.3 581.5,376.7 577.4,378.0 573.4,379.2 569.4,380.4 565.4,381.5 561.4,382.4 557.4,383.3 553.4,384.1 549.4,384.8 545.4,385.3 541.4,385.7 537.4,386.1 533.4,386.4 529.4,386.6 525.4,386.7 521.4,386.8 517.4,387.0 513.4,387.1 509.4,387.2 505.4,387.4 501.4,387.6 497.4,388.0 493.4,388.4 489.4,388.9 485.4,389.5 481.4,390.3 477.4,391.2 473.3,392.1 469.3,393.2 465.3,394.4 461.3,395.6 457.3,397.0 453.3,398.4 449.3,399.9 445.3,401.5 441.3,403.1 437.3,404.8 433.3,406.6 429.3,408.4 425.3,410.2 421.3,412.1 417.3,414.1 413.3,416.0 409.3,418.0 405.3,420.0 401.3,422.0 397.3,424.0 393.3,426.0 389.3,428.1 385.3,430.1 381.3,432.2 377.3,434.2 373.2,436.2 369.2,438.3 365.2,440.3 361.2,442.3 357.2,444.3 353.2,446.3 349.2,448.3 345.2,450.3 341.2,452.3 337.2,454.2 333.2,456.2 329.2,458.1 325.2,460.1 321.2,462.0 317.2,464.0 313.2,465.9 309.2,467.8 305.2,469.8 301.2,471.7 297.2,473.7 293.2,475.7 289.2,477.6 285.2,479.6 281.2,481.6 277.2,483.6 273.1,485.6 269.1,487.7 265.1,489.7 261.1,491.8 257.1,493.8 253.1,495.9 249.1,498.0 245.1,500.1 241.1,502.2 237.1,504.3 233.1,506.4 229.1,508.5 225.1,510.6 221.1,512.7 217.1,514.8 213.1,516.9 209.1,519.0 205.1,521.1 201.1,523.2 197.1,525.3 193.1,527.4 189.1,529.5 185.1,531.5 181.1,533.6 177.1,535.7 173.0,537.7 169.0,539.7 165.0,541.8 161.0,543.8 157.0,545.8 153.0,547.8 149.0,549.7 145.0,551.7 141.0,553.7 137.0,555.7 133.0,557.6 129.0,559.6 125.0,561.6" fill="#d6b4b4"/><g clip-path="url(#cba)"><polygon points="125.0,476.5 129.0,475.4 133.0,474.4 137.0,473.3 141.0,472.3 145.0,471.2 149.0,470.2 153.0,469.2 157.0,468.2 161.0,467.2 165.0,466.2 169.0,465.2 173.0,464.2 177.1,463.2 181.1,462.3 185.1,461.3 189.1,460.4 193.1,459.5 197.1,458.5 201.1,457.6 205.1,456.7 209.1,455.8 213.1,454.9 217.1,454.0 221.1,453.0 225.1,452.1 229.1,451.2 233.1,450.3 237.1,449.4 241.1,448.4 245.1,447.5 249.1,446.6 253.1,445.6 257.1,444.6 261.1,443.7 265.1,442.7 269.1,441.7 273.1,440.7 277.2,439.7 281.2,438.6 285.2,437.6 289.2,436.5 293.2,435.4 297.2,434.3 301.2,433.2 305.2,432.1 309.2,431.0 313.2,429.9 317.2,428.8 321.2,427.6 325.2,426.5 329.2,425.4 333.2,424.3 337.2,423.2 341.2,422.0 345.2,420.9 349.2,419.8 353.2,418.7 357.2,417.6 361.2,416.5 365.2,415.5 369.2,414.4 373.2,413.3 377.3,412.2 381.3,411.2 385.3,410.1 389.3,409.0 393.3,407.9 397.3,406.9 401.3,405.7 405.3,404.6 409.3,403.5 413.3,402.3 417.3,401.1 421.3,399.9 425.3,398.7 429.3,397.5 433.3,396.2 437.3,395.0 441.3,393.7 445.3,392.5 449.3,391.3 453.3,390.1 457.3,389.0 461.3,387.9 465.3,386.8 469.3,385.9 473.3,384.9 477.4,384.1 481.4,383.3 485.4,382.6 489.4,382.0 493.4,381.5 497.4,381.1 501.4,380.8 505.4,380.6 509.4,380.3 513.4,380.2 517.4,380.0 521.4,379.8 525.4,379.7 529.4,379.4 533.4,379.2 537.4,378.9 541.4,378.5 545.4,378.0 549.4,377.4 553.4,376.6 557.4,375.7 561.4,374.7 565.4,373.6 569.4,372.4 573.4,371.0 577.4,369.5 581.5,367.9 585.5,366.3 589.5,364.5 593.5,362.6 597.5,360.6 601.5,358.5 605.5,356.4 609.5,354.2 613.5,351.9 617.5,349.6 621.5,347.2 625.5,344.8 629.5,342.3 633.5,339.8 637.5,337.3 641.5,334.8 645.5,332.2 649.5,329.6 653.5,326.9 657.5,324.3 661.5,321.6 665.5,318.9 669.5,316.1 673.5,313.3 677.5,310.5 681.6,307.7 685.6,304.8 689.6,301.9 693.6,299.1 697.6,296.2 701.6,293.3 705.6,290.4 709.6,287.6 713.6,284.7 717.6,281.8 721.6,279.0 725.6,276.2 729.6,273.3 733.6,270.5 737.6,267.7 741.6,264.9 745.6,262.1 749.6,259.3 753.6,256.5 757.6,253.8 761.6,251.0 765.6,248.3 769.6,245.6 773.6,242.9 777.6,240.1 781.7,237.4 785.7,234.7 789.7,232.0 793.7,229.3 797.7,226.7 801.7,224.0 805.7,221.3 809.7,218.6 813.7,215.9 817.7,213.2 821.7,210.6 825.7,207.9 829.7,205.2 833.7,202.5 837.7,199.8 841.7,197.1 845.7,194.4 849.7,191.6 853.7,188.9 857.7,186.2 861.7,183.4 865.7,180.7 869.7,178.0 873.7,175.2 877.7,172.4 881.8,169.7 885.8,166.9 889.8,164.1 893.8,161.4 897.8,158.6 901.8,155.8 905.8,153.0 909.8,150.3 913.8,147.5 917.8,144.7 921.8,141.9 925.8,139.1 929.8,136.3 929.8,237.5 925.8,239.0 921.8,240.6 917.8,242.1 913.8,243.6 909.8,245.1 905.8,246.7 901.8,248.2 897.8,249.7 893.8,251.3 889.8,252.8 885.8,254.4 881.8,255.9 877.7,257.5 873.7,259.0 869.7,260.6 865.7,262.1 861.7,263.7 857.7,265.3 853.7,266.9 849.7,268.5 845.7,270.1 841.7,271.7 837.7,273.3 833.7,274.9 829.7,276.5 825.7,278.2 821.7,279.8 817.7,281.4 813.7,283.1 809.7,284.7 805.7,286.4 801.7,288.0 797.7,289.7 793.7,291.3 789.7,292.9 785.7,294.6 781.7,296.2 777.6,297.8 773.6,299.5 769.6,301.1 765.6,302.7 761.6,304.3 757.6,305.9 753.6,307.5 749.6,309.1 745.6,310.6 741.6,312.2 737.6,313.8 733.6,315.3 729.6,316.8 725.6,318.4 721.6,319.9 717.6,321.4 713.6,322.9 709.6,324.4 705.6,325.9 701.6,327.4 697.6,328.9 693.6,330.4 689.6,331.9 685.6,333.4 681.6,334.9 677.5,336.5 673.5,338.1 669.5,339.7 665.5,341.3 661.5,343.0 657.5,344.7 653.5,346.4 649.5,348.2 645.5,350.0 641.5,351.8 637.5,353.6 633.5,355.4 629.5,357.3 625.5,359.1 621.5,360.8 617.5,362.6 613.5,364.3 609.5,366.0 605.5,367.7 601.5,369.3 597.5,370.9 593.5,372.4 589.5,373.9 585.5,375.3 581.5,376.7 577.4,378.0 573.4,379.2 569.4,380.4 565.4,381.5 561.4,382.4 557.4,383.3 553.4,384.1 549.4,384.8 545.4,385.3 541.4,385.7 537.4,386.1 533.4,386.4 529.4,386.6 525.4,386.7 521.4,386.8 517.4,387.0 513.4,387.1 509.4,387.2 505.4,387.4 501.4,387.6 497.4,388.0 493.4,388.4 489.4,388.9 485.4,389.5 481.4,390.3 477.4,391.2 473.3,392.1 469.3,393.2 465.3,394.4 461.3,395.6 457.3,397.0 453.3,398.4 449.3,399.9 445.3,401.5 441.3,403.1 437.3,404.8 433.3,406.6 429.3,408.4 425.3,410.2 421.3,412.1 417.3,414.1 413.3,416.0 409.3,418.0 405.3,420.0 401.3,422.0 397.3,424.0 393.3,426.0 389.3,428.1 385.3,430.1 381.3,432.2 377.3,434.2 373.2,436.2 369.2,438.3 365.2,440.3 361.2,442.3 357.2,444.3 353.2,446.3 349.2,448.3 345.2,450.3 341.2,452.3 337.2,454.2 333.2,456.2 329.2,458.1 325.2,460.1 321.2,462.0 317.2,464.0 313.2,465.9 309.2,467.8 305.2,469.8 301.2,471.7 297.2,473.7 293.2,475.7 289.2,477.6 285.2,479.6 281.2,481.6 277.2,483.6 273.1,485.6 269.1,487.7 265.1,489.7 261.1,491.8 257.1,493.8 253.1,495.9 249.1,498.0 245.1,500.1 241.1,502.2 237.1,504.3 233.1,506.4 229.1,508.5 225.1,510.6 221.1,512.7 217.1,514.8 213.1,516.9 209.1,519.0 205.1,521.1 201.1,523.2 197.1,525.3 193.1,527.4 189.1,529.5 185.1,531.5 181.1,533.6 177.1,535.7 173.0,537.7 169.0,539.7 165.0,541.8 161.0,543.8 157.0,545.8 153.0,547.8 149.0,549.7 145.0,551.7 141.0,553.7 137.0,555.7 133.0,557.6 129.0,559.6 125.0,561.6" fill="#b4a0a8"/></g><polyline points="125.0,434.2 129.0,433.5 133.0,432.9 137.0,432.2 141.0,431.5 145.0,430.8 149.0,430.2 153.0,429.5 157.0,428.8 161.0,428.1 165.0,427.4 169.0,426.8 173.0,426.1 177.1,425.4 181.1,424.7 185.1,424.0 189.1,423.4 193.1,422.7 197.1,422.0 201.1,421.3 205.1,420.7 209.1,420.0 213.1,419.3 217.1,418.6 221.1,417.9 225.1,417.3 229.1,416.6 233.1,415.9 237.1,415.2 241.1,414.5 245.1,413.9 249.1,413.2 253.1,412.5 257.1,411.8 261.1,411.2 265.1,410.5 269.1,409.8 273.1,409.1 277.2,408.4 281.2,407.8 285.2,407.1 289.2,406.4 293.2,405.7 297.2,405.0 301.2,404.4 305.2,403.7 309.2,403.0 313.2,402.3 317.2,401.6 321.2,401.0 325.2,400.3 329.2,399.6 333.2,398.9 337.2,398.3 341.2,397.6 345.2,396.9 349.2,396.2 353.2,395.5 357.2,394.9 361.2,394.2 365.2,393.5 369.2,392.8 373.2,392.1 377.3,391.5 381.3,390.8 385.3,390.1 389.3,389.4 393.3,388.7 397.3,388.0 401.3,387.4 405.3,386.7 409.3,386.0 413.3,385.3 417.3,384.6 421.3,384.0 425.3,383.3 429.3,382.6 433.3,381.9 437.3,381.1 441.3,380.3 445.3,379.6 449.3,378.7 453.3,377.9 457.3,377.0 461.3,376.0 465.3,375.0 469.3,373.9 473.3,372.8 477.4,371.6 481.4,370.4 485.4,369.0 489.4,367.6 493.4,366.1 497.4,364.5 501.4,362.9 505.4,361.2 509.4,359.4 513.4,357.6 517.4,355.8 521.4,353.9 525.4,352.0 529.4,350.1 533.4,348.2 537.4,346.2 541.4,344.3 545.4,342.5 549.4,340.6 553.4,338.8 557.4,337.0 561.4,335.2 565.4,333.5 569.4,331.8 573.4,330.1 577.4,328.5 581.5,326.9 585.5,325.3 589.5,323.7 593.5,322.2 597.5,320.7 601.5,319.1 605.5,317.6 609.5,316.2 613.5,314.7 617.5,313.3 621.5,311.8 625.5,310.4 629.5,309.0 633.5,307.5 637.5,306.1 641.5,304.7 645.5,303.3 649.5,301.9 653.5,300.5 657.5,299.1 661.5,297.7 665.5,296.3 669.5,294.9 673.5,293.5 677.5,292.1 681.6,290.7 685.6,289.3 689.6,287.9 693.6,286.5 697.6,285.1 701.6,283.7 705.6,282.3 709.6,280.9 713.6,279.5 717.6,278.1 721.6,276.7 725.6,275.3 729.6,273.9 733.6,272.5 737.6,271.1 741.6,269.7 745.6,268.3 749.6,266.9 753.6,265.5 757.6,264.1 761.6,262.7 765.6,261.3 769.6,259.9 773.6,258.5 777.6,257.1 781.7,255.7 785.7,254.3 789.7,252.9 793.7,251.5 797.7,250.1 801.7,248.7 805.7,247.3 809.7,245.9 813.7,244.5 817.7,243.1 821.7,241.7 825.7,240.3 829.7,238.9 833.7,237.5 837.7,236.1 841.7,234.7 845.7,233.3 849.7,231.9 853.7,230.5 857.7,229.1 861.7,227.7 865.7,226.3 869.7,224.9 873.7,223.5 877.7,222.1 881.8,220.7 885.8,219.3 889.8,217.9 893.8,216.5 897.8,215.0 901.8,213.6 905.8,212.2 909.8,210.8 913.8,209.4 917.8,208.0 921.8,206.6 925.8,205.2 929.8,203.8" class="lb"/><g clip-path="url(#cra)"><polyline points="125.0,434.2 129.0,433.5 133.0,432.9 137.0,432.2 141.0,431.5 145.0,430.8 149.0,430.2 153.0,429.5 157.0,428.8 161.0,428.1 165.0,427.4 169.0,426.8 173.0,426.1 177.1,425.4 181.1,424.7 185.1,424.0 189.1,423.4 193.1,422.7 197.1,422.0 201.1,421.3 205.1,420.7 209.1,420.0 213.1,419.3 217.1,418.6 221.1,417.9 225.1,417.3 229.1,416.6 233.1,415.9 237.1,415.2 241.1,414.5 245.1,413.9 249.1,413.2 253.1,412.5 257.1,411.8 261.1,411.2 265.1,410.5 269.1,409.8 273.1,409.1 277.2,408.4 281.2,407.8 285.2,407.1 289.2,406.4 293.2,405.7 297.2,405.0 301.2,404.4 305.2,403.7 309.2,403.0 313.2,402.3 317.2,401.6 321.2,401.0 325.2,400.3 329.2,399.6 333.2,398.9 337.2,398.3 341.2,397.6 345.2,396.9 349.2,396.2 353.2,395.5 357.2,394.9 361.2,394.2 365.2,393.5 369.2,392.8 373.2,392.1 377.3,391.5 381.3,390.8 385.3,390.1 389.3,389.4 393.3,388.7 397.3,388.0 401.3,387.4 405.3,386.7 409.3,386.0 413.3,385.3 417.3,384.6 421.3,384.0 425.3,383.3 429.3,382.6 433.3,381.9 437.3,381.1 441.3,380.3 445.3,379.6 449.3,378.7 453.3,377.9 457.3,377.0 461.3,376.0 465.3,375.0 469.3,373.9 473.3,372.8 477.4,371.6 481.4,370.4 485.4,369.0 489.4,367.6 493.4,366.1 497.4,364.5 501.4,362.9 505.4,361.2 509.4,359.4 513.4,357.6 517.4,355.8 521.4,353.9 525.4,352.0 529.4,350.1 533.4,348.2 537.4,346.2 541.4,344.3 545.4,342.5 549.4,340.6 553.4,338.8 557.4,337.0 561.4,335.2 565.4,333.5 569.4,331.8 573.4,330.1 577.4,328.5 581.5,326.9 585.5,325.3 589.5,323.7 593.5,322.2 597.5,320.7 601.5,319.1 605.5,317.6 609.5,316.2 613.5,314.7 617.5,313.3 621.5,311.8 625.5,310.4 629.5,309.0 633.5,307.5 637.5,306.1 641.5,304.7 645.5,303.3 649.5,301.9 653.5,300.5 657.5,299.1 661.5,297.7 665.5,296.3 669.5,294.9 673.5,293.5 677.5,292.1 681.6,290.7 685.6,289.3 689.6,287.9 693.6,286.5 697.6,285.1 701.6,283.7 705.6,282.3 709.6,280.9 713.6,279.5 717.6,278.1 721.6,276.7 725.6,275.3 729.6,273.9 733.6,272.5 737.6,271.1 741.6,269.7 745.6,268.3 749.6,266.9 753.6,265.5 757.6,264.1 761.6,262.7 765.6,261.3 769.6,259.9 773.6,258.5 777.6,257.1 781.7,255.7 785.7,254.3 789.7,252.9 793.7,251.5 797.7,250.1 801.7,248.7 805.7,247.3 809.7,245.9 813.7,244.5 817.7,243.1 821.7,241.7 825.7,240.3 829.7,238.9 833.7,237.5 837.7,236.1 841.7,234.7 845.7,233.3 849.7,231.9 853.7,230.5 857.7,229.1 861.7,227.7 865.7,226.3 869.7,224.9 873.7,223.5 877.7,222.1 881.8,220.7 885.8,219.3 889.8,217.9 893.8,216.5 897.8,215.0 901.8,213.6 905.8,212.2 909.8,210.8 913.8,209.4 917.8,208.0 921.8,206.6 925.8,205.2 929.8,203.8" class="lb" style="stroke:#6253d8"/></g><polyline points="125.0,519.0 129.0,517.5 133.0,516.0 137.0,514.5 141.0,513.0 145.0,511.5 149.0,510.0 153.0,508.5 157.0,507.0 161.0,505.5 165.0,504.0 169.0,502.5 173.0,501.0 177.1,499.4 181.1,497.9 185.1,496.4 189.1,494.9 193.1,493.4 197.1,491.9 201.1,490.4 205.1,488.9 209.1,487.4 213.1,485.9 217.1,484.4 221.1,482.9 225.1,481.3 229.1,479.8 233.1,478.3 237.1,476.8 241.1,475.3 245.1,473.8 249.1,472.3 253.1,470.7 257.1,469.2 261.1,467.7 265.1,466.2 269.1,464.7 273.1,463.2 277.2,461.6 281.2,460.1 285.2,458.6 289.2,457.1 293.2,455.5 297.2,454.0 301.2,452.5 305.2,451.0 309.2,449.4 313.2,447.9 317.2,446.4 321.2,444.8 325.2,443.3 329.2,441.8 333.2,440.2 337.2,438.7 341.2,437.1 345.2,435.6 349.2,434.1 353.2,432.5 357.2,431.0 361.2,429.4 365.2,427.9 369.2,426.3 373.2,424.8 377.3,423.2 381.3,421.7 385.3,420.1 389.3,418.6 393.3,417.0 397.3,415.4 401.3,413.9 405.3,412.3 409.3,410.7 413.3,409.2 417.3,407.6 421.3,406.0 425.3,404.5 429.3,402.9 433.3,401.4 437.3,399.9 441.3,398.4 445.3,397.0 449.3,395.6 453.3,394.3 457.3,393.0 461.3,391.8 465.3,390.6 469.3,389.5 473.3,388.5 477.4,387.6 481.4,386.8 485.4,386.1 489.4,385.5 493.4,385.0 497.4,384.6 501.4,384.2 505.4,384.0 509.4,383.8 513.4,383.6 517.4,383.5 521.4,383.3 525.4,383.2 529.4,383.0 533.4,382.8 537.4,382.5 541.4,382.1 545.4,381.6 549.4,381.1 553.4,380.4 557.4,379.5 561.4,378.6 565.4,377.5 569.4,376.4 573.4,375.1 577.4,373.8 581.5,372.3 585.5,370.8 589.5,369.2 593.5,367.5 597.5,365.7 601.5,363.9 605.5,362.0 609.5,360.1 613.5,358.1 617.5,356.1 621.5,354.0 625.5,351.9 629.5,349.8 633.5,347.6 637.5,345.5 641.5,343.3 645.5,341.1 649.5,338.9 653.5,336.7 657.5,334.5 661.5,332.3 665.5,330.1 669.5,327.9 673.5,325.7 677.5,323.5 681.6,321.3 685.6,319.1 689.6,316.9 693.6,314.7 697.6,312.5 701.6,310.4 705.6,308.2 709.6,306.0 713.6,303.8 717.6,301.6 721.6,299.4 725.6,297.3 729.6,295.1 733.6,292.9 737.6,290.7 741.6,288.5 745.6,286.4 749.6,284.2 753.6,282.0 757.6,279.8 761.6,277.7 765.6,275.5 769.6,273.3 773.6,271.2 777.6,269.0 781.7,266.8 785.7,264.7 789.7,262.5 793.7,260.3 797.7,258.2 801.7,256.0 805.7,253.8 809.7,251.7 813.7,249.5 817.7,247.3 821.7,245.2 825.7,243.0 829.7,240.9 833.7,238.7 837.7,236.5 841.7,234.4 845.7,232.2 849.7,230.1 853.7,227.9 857.7,225.7 861.7,223.6 865.7,221.4 869.7,219.3 873.7,217.1 877.7,215.0 881.8,212.8 885.8,210.6 889.8,208.5 893.8,206.3 897.8,204.2 901.8,202.0 905.8,199.9 909.8,197.7 913.8,195.5 917.8,193.4 921.8,191.2 925.8,189.1 929.8,186.9" class="lr"/><g clip-path="url(#cba)"><polyline points="125.0,519.0 129.0,517.5 133.0,516.0 137.0,514.5 141.0,513.0 145.0,511.5 149.0,510.0 153.0,508.5 157.0,507.0 161.0,505.5 165.0,504.0 169.0,502.5 173.0,501.0 177.1,499.4 181.1,497.9 185.1,496.4 189.1,494.9 193.1,493.4 197.1,491.9 201.1,490.4 205.1,488.9 209.1,487.4 213.1,485.9 217.1,484.4 221.1,482.9 225.1,481.3 229.1,479.8 233.1,478.3 237.1,476.8 241.1,475.3 245.1,473.8 249.1,472.3 253.1,470.7 257.1,469.2 261.1,467.7 265.1,466.2 269.1,464.7 273.1,463.2 277.2,461.6 281.2,460.1 285.2,458.6 289.2,457.1 293.2,455.5 297.2,454.0 301.2,452.5 305.2,451.0 309.2,449.4 313.2,447.9 317.2,446.4 321.2,444.8 325.2,443.3 329.2,441.8 333.2,440.2 337.2,438.7 341.2,437.1 345.2,435.6 349.2,434.1 353.2,432.5 357.2,431.0 361.2,429.4 365.2,427.9 369.2,426.3 373.2,424.8 377.3,423.2 381.3,421.7 385.3,420.1 389.3,418.6 393.3,417.0 397.3,415.4 401.3,413.9 405.3,412.3 409.3,410.7 413.3,409.2 417.3,407.6 421.3,406.0 425.3,404.5 429.3,402.9 433.3,401.4 437.3,399.9 441.3,398.4 445.3,397.0 449.3,395.6 453.3,394.3 457.3,393.0 461.3,391.8 465.3,390.6 469.3,389.5 473.3,388.5 477.4,387.6 481.4,386.8 485.4,386.1 489.4,385.5 493.4,385.0 497.4,384.6 501.4,384.2 505.4,384.0 509.4,383.8 513.4,383.6 517.4,383.5 521.4,383.3 525.4,383.2 529.4,383.0 533.4,382.8 537.4,382.5 541.4,382.1 545.4,381.6 549.4,381.1 553.4,380.4 557.4,379.5 561.4,378.6 565.4,377.5 569.4,376.4 573.4,375.1 577.4,373.8 581.5,372.3 585.5,370.8 589.5,369.2 593.5,367.5 597.5,365.7 601.5,363.9 605.5,362.0 609.5,360.1 613.5,358.1 617.5,356.1 621.5,354.0 625.5,351.9 629.5,349.8 633.5,347.6 637.5,345.5 641.5,343.3 645.5,341.1 649.5,338.9 653.5,336.7 657.5,334.5 661.5,332.3 665.5,330.1 669.5,327.9 673.5,325.7 677.5,323.5 681.6,321.3 685.6,319.1 689.6,316.9 693.6,314.7 697.6,312.5 701.6,310.4 705.6,308.2 709.6,306.0 713.6,303.8 717.6,301.6 721.6,299.4 725.6,297.3 729.6,295.1 733.6,292.9 737.6,290.7 741.6,288.5 745.6,286.4 749.6,284.2 753.6,282.0 757.6,279.8 761.6,277.7 765.6,275.5 769.6,273.3 773.6,271.2 777.6,269.0 781.7,266.8 785.7,264.7 789.7,262.5 793.7,260.3 797.7,258.2 801.7,256.0 805.7,253.8 809.7,251.7 813.7,249.5 817.7,247.3 821.7,245.2 825.7,243.0 829.7,240.9 833.7,238.7 837.7,236.5 841.7,234.4 845.7,232.2 849.7,230.1 853.7,227.9 857.7,225.7 861.7,223.6 865.7,221.4 869.7,219.3 873.7,217.1 877.7,215.0 881.8,212.8 885.8,210.6 889.8,208.5 893.8,206.3 897.8,204.2 901.8,202.0 905.8,199.9 909.8,197.7 913.8,195.5 917.8,193.4 921.8,191.2 925.8,189.1 929.8,186.9" class="lr" style="stroke:#da4c57"/></g></g>
<g transform="translate(1026.0,0)"><polygon points="125.0,367.5 129.0,367.2 133.0,367.0 137.0,366.7 141.0,366.4 145.0,366.1 149.0,365.9 153.0,365.6 157.0,365.3 161.0,365.1 165.0,364.8 169.0,364.5 173.0,364.3 177.1,364.0 181.1,363.7 185.1,363.5 189.1,363.2 193.1,362.9 197.1,362.6 201.1,362.4 205.1,362.1 209.1,361.8 213.1,361.6 217.1,361.3 221.1,361.0 225.1,360.8 229.1,360.5 233.1,360.2 237.1,360.0 241.1,359.7 245.1,359.4 249.1,359.2 253.1,358.9 257.1,358.6 261.1,358.4 265.1,358.1 269.1,357.8 273.1,357.5 277.2,357.3 281.2,357.0 285.2,356.7 289.2,356.4 293.2,356.1 297.2,355.8 301.2,355.5 305.2,355.2 309.2,354.9 313.2,354.6 317.2,354.3 321.2,354.0 325.2,353.6 329.2,353.3 333.2,353.0 337.2,352.6 341.2,352.3 345.2,352.0 349.2,351.6 353.2,351.3 357.2,350.9 361.2,350.6 365.2,350.2 369.2,349.9 373.2,349.5 377.3,349.1 381.3,348.8 385.3,348.4 389.3,348.0 393.3,347.6 397.3,347.2 401.3,346.8 405.3,346.3 409.3,345.9 413.3,345.4 417.3,345.0 421.3,344.5 425.3,344.0 429.3,343.5 433.3,342.9 437.3,342.4 441.3,341.8 445.3,341.2 449.3,340.6 453.3,339.9 457.3,339.3 461.3,338.6 465.3,337.9 469.3,337.2 473.3,336.4 477.4,335.6 481.4,334.8 485.4,334.0 489.4,333.2 493.4,332.3 497.4,331.4 501.4,330.4 505.4,329.4 509.4,328.4 513.4,327.4 517.4,326.3 521.4,325.2 525.4,324.1 529.4,323.0 533.4,321.8 537.4,320.7 541.4,319.5 545.4,318.3 549.4,317.1 553.4,315.8 557.4,314.6 561.4,313.4 565.4,312.1 569.4,310.9 573.4,309.6 577.4,308.3 581.5,307.1 585.5,305.8 589.5,304.5 593.5,303.2 597.5,301.8 601.5,300.5 605.5,299.2 609.5,297.9 613.5,296.6 617.5,295.2 621.5,293.9 625.5,292.6 629.5,291.2 633.5,289.9 637.5,288.6 641.5,287.2 645.5,285.9 649.5,284.6 653.5,283.2 657.5,281.8 661.5,280.5 665.5,279.1 669.5,277.7 673.5,276.3 677.5,274.9 681.6,273.4 685.6,272.0 689.6,270.6 693.6,269.1 697.6,267.6 701.6,266.2 705.6,264.7 709.6,263.2 713.6,261.7 717.6,260.2 721.6,258.7 725.6,257.2 729.6,255.6 733.6,254.1 737.6,252.6 741.6,251.1 745.6,249.6 749.6,248.1 753.6,246.5 757.6,245.0 761.6,243.5 765.6,242.0 769.6,240.4 773.6,238.9 777.6,237.4 781.7,235.9 785.7,234.4 789.7,232.8 793.7,231.3 797.7,229.8 801.7,228.3 805.7,226.8 809.7,225.3 813.7,223.8 817.7,222.3 821.7,220.8 825.7,219.3 829.7,217.8 833.7,216.3 837.7,214.8 841.7,213.3 845.7,211.8 849.7,210.3 853.7,208.8 857.7,207.4 861.7,205.9 865.7,204.4 869.7,202.9 873.7,201.4 877.7,199.9 881.8,198.3 885.8,196.8 889.8,195.3 893.8,193.7 897.8,192.2 901.8,190.6 905.8,189.1 909.8,187.5 913.8,185.9 917.8,184.4 921.8,182.8 925.8,181.2 929.8,179.7 929.8,230.6 925.8,231.4 921.8,232.3 917.8,233.1 913.8,234.0 909.8,234.8 905.8,235.7 901.8,236.5 897.8,237.4 893.8,238.3 889.8,239.2 885.8,240.1 881.8,241.0 877.7,241.9 873.7,242.8 869.7,243.7 865.7,244.6 861.7,245.6 857.7,246.5 853.7,247.4 849.7,248.4 845.7,249.3 841.7,250.2 837.7,251.2 833.7,252.1 829.7,253.1 825.7,254.0 821.7,254.9 817.7,255.8 813.7,256.8 809.7,257.7 805.7,258.6 801.7,259.5 797.7,260.4 793.7,261.3 789.7,262.2 785.7,263.1 781.7,264.1 777.6,265.0 773.6,265.9 769.6,266.8 765.6,267.7 761.6,268.6 757.6,269.5 753.6,270.4 749.6,271.3 745.6,272.3 741.6,273.2 737.6,274.1 733.6,275.0 729.6,275.9 725.6,276.8 721.6,277.8 717.6,278.7 713.6,279.6 709.6,280.6 705.6,281.5 701.6,282.5 697.6,283.4 693.6,284.4 689.6,285.4 685.6,286.4 681.6,287.4 677.5,288.4 673.5,289.4 669.5,290.5 665.5,291.5 661.5,292.6 657.5,293.7 653.5,294.7 649.5,295.8 645.5,296.9 641.5,298.0 637.5,299.1 633.5,300.3 629.5,301.4 625.5,302.5 621.5,303.6 617.5,304.7 613.5,305.9 609.5,307.0 605.5,308.1 601.5,309.2 597.5,310.4 593.5,311.5 589.5,312.6 585.5,313.8 581.5,314.9 577.4,316.1 573.4,317.3 569.4,318.4 565.4,319.6 561.4,320.8 557.4,322.0 553.4,323.2 549.4,324.4 545.4,325.6 541.4,326.9 537.4,328.1 533.4,329.3 529.4,330.5 525.4,331.7 521.4,333.0 517.4,334.2 513.4,335.3 509.4,336.5 505.4,337.7 501.4,338.8 497.4,339.9 493.4,341.0 489.4,342.0 485.4,343.0 481.4,344.0 477.4,344.9 473.3,345.8 469.3,346.7 465.3,347.5 461.3,348.4 457.3,349.2 453.3,350.0 449.3,350.8 445.3,351.5 441.3,352.3 437.3,353.0 433.3,353.8 429.3,354.6 425.3,355.3 421.3,356.1 417.3,356.9 413.3,357.7 409.3,358.5 405.3,359.3 401.3,360.1 397.3,361.0 393.3,361.8 389.3,362.7 385.3,363.6 381.3,364.5 377.3,365.3 373.2,366.2 369.2,367.1 365.2,368.0 361.2,368.9 357.2,369.8 353.2,370.8 349.2,371.7 345.2,372.6 341.2,373.5 337.2,374.4 333.2,375.3 329.2,376.2 325.2,377.2 321.2,378.1 317.2,379.0 313.2,380.0 309.2,380.9 305.2,381.8 301.2,382.8 297.2,383.7 293.2,384.7 289.2,385.6 285.2,386.6 281.2,387.6 277.2,388.5 273.1,389.5 269.1,390.5 265.1,391.4 261.1,392.4 257.1,393.4 253.1,394.4 249.1,395.3 245.1,396.3 241.1,397.3 237.1,398.3 233.1,399.2 229.1,400.2 225.1,401.2 221.1,402.2 217.1,403.1 213.1,404.1 209.1,405.1 205.1,406.1 201.1,407.0 197.1,408.0 193.1,409.0 189.1,410.0 185.1,410.9 181.1,411.9 177.1,412.9 173.0,413.9 169.0,414.8 165.0,415.8 161.0,416.8 157.0,417.7 153.0,418.7 149.0,419.7 145.0,420.6 141.0,421.6 137.0,422.6 133.0,423.6 129.0,424.5 125.0,425.5" fill="#b8ccd4"/><polygon points="125.0,410.7 129.0,410.1 133.0,409.5 137.0,408.9 141.0,408.3 145.0,407.7 149.0,407.1 153.0,406.5 157.0,405.9 161.0,405.3 165.0,404.7 169.0,404.1 173.0,403.5 177.1,402.9 181.1,402.3 185.1,401.7 189.1,401.1 193.1,400.6 197.1,400.0 201.1,399.4 205.1,398.8 209.1,398.2 213.1,397.6 217.1,397.0 221.1,396.4 225.1,395.9 229.1,395.3 233.1,394.7 237.1,394.1 241.1,393.5 245.1,392.9 249.1,392.3 253.1,391.7 257.1,391.1 261.1,390.5 265.1,389.9 269.1,389.3 273.1,388.7 277.2,388.0 281.2,387.4 285.2,386.8 289.2,386.2 293.2,385.6 297.2,385.1 301.2,384.5 305.2,383.9 309.2,383.4 313.2,382.8 317.2,382.2 321.2,381.7 325.2,381.1 329.2,380.5 333.2,379.9 337.2,379.3 341.2,378.8 345.2,378.2 349.2,377.6 353.2,377.0 357.2,376.4 361.2,375.8 365.2,375.2 369.2,374.6 373.2,374.0 377.3,373.4 381.3,372.7 385.3,372.0 389.3,371.3 393.3,370.5 397.3,369.7 401.3,368.9 405.3,368.1 409.3,367.2 413.3,366.3 417.3,365.4 421.3,364.4 425.3,363.4 429.3,362.5 433.3,361.5 437.3,360.5 441.3,359.6 445.3,358.7 449.3,357.8 453.3,356.9 457.3,356.2 461.3,355.5 465.3,354.8 469.3,354.3 473.3,353.9 477.4,353.5 481.4,353.3 485.4,353.2 489.4,353.2 493.4,353.4 497.4,353.7 501.4,354.1 505.4,354.6 509.4,355.2 513.4,355.8 517.4,356.4 521.4,357.0 525.4,357.6 529.4,358.1 533.4,358.5 537.4,358.8 541.4,359.0 545.4,359.0 549.4,358.8 553.4,358.4 557.4,357.8 561.4,357.1 565.4,356.1 569.4,354.9 573.4,353.6 577.4,352.1 581.5,350.4 585.5,348.5 589.5,346.5 593.5,344.4 597.5,342.2 601.5,339.8 605.5,337.3 609.5,334.7 613.5,332.0 617.5,329.2 621.5,326.3 625.5,323.4 629.5,320.4 633.5,317.3 637.5,314.1 641.5,310.9 645.5,307.7 649.5,304.5 653.5,301.2 657.5,298.0 661.5,294.7 665.5,291.4 669.5,288.1 673.5,284.8 677.5,281.5 681.6,278.2 685.6,275.0 689.6,271.7 693.6,268.4 697.6,265.0 701.6,261.7 705.6,258.4 709.6,255.0 713.6,251.7 717.6,248.3 721.6,244.9 725.6,241.4 729.6,238.0 733.6,234.6 737.6,231.1 741.6,227.6 745.6,224.1 749.6,220.6 753.6,217.2 757.6,213.7 761.6,210.2 765.6,206.7 769.6,203.2 773.6,199.8 777.6,196.4 781.7,193.0 785.7,189.6 789.7,186.2 793.7,182.8 797.7,179.4 801.7,176.1 805.7,172.7 809.7,169.4 813.7,166.0 817.7,162.7 821.7,159.3 825.7,156.0 829.7,152.6 833.7,149.2 837.7,145.9 841.7,142.5 845.7,139.1 849.7,135.7 853.7,132.3 857.7,128.9 861.7,125.5 865.7,122.0 869.7,118.6 873.7,115.2 877.7,111.8 881.8,108.4 885.8,105.0 889.8,101.6 893.8,98.2 897.8,94.8 901.8,91.4 905.8,88.0 909.8,84.6 913.8,81.2 917.8,77.8 921.8,74.4 925.8,71.0 929.8,67.7 929.8,204.5 925.8,206.2 921.8,208.0 917.8,209.7 913.8,211.4 909.8,213.2 905.8,214.9 901.8,216.7 897.8,218.4 893.8,220.1 889.8,221.9 885.8,223.6 881.8,225.3 877.7,227.0 873.7,228.8 869.7,230.5 865.7,232.2 861.7,233.9 857.7,235.7 853.7,237.4 849.7,239.1 845.7,240.9 841.7,242.6 837.7,244.4 833.7,246.2 829.7,248.0 825.7,249.8 821.7,251.6 817.7,253.4 813.7,255.2 809.7,257.0 805.7,258.8 801.7,260.6 797.7,262.5 793.7,264.3 789.7,266.1 785.7,267.9 781.7,269.7 777.6,271.4 773.6,273.2 769.6,274.9 765.6,276.7 761.6,278.4 757.6,280.1 753.6,281.9 749.6,283.6 745.6,285.3 741.6,287.0 737.6,288.8 733.6,290.5 729.6,292.3 725.6,294.1 721.6,295.9 717.6,297.8 713.6,299.6 709.6,301.5 705.6,303.4 701.6,305.4 697.6,307.3 693.6,309.3 689.6,311.2 685.6,313.2 681.6,315.2 677.5,317.2 673.5,319.2 669.5,321.3 665.5,323.3 661.5,325.3 657.5,327.4 653.5,329.4 649.5,331.5 645.5,333.6 641.5,335.7 637.5,337.8 633.5,339.9 629.5,342.0 625.5,344.1 621.5,346.2 617.5,348.2 613.5,350.2 609.5,352.2 605.5,354.1 601.5,356.0 597.5,357.7 593.5,359.4 589.5,361.0 585.5,362.5 581.5,363.8 577.4,365.1 573.4,366.3 569.4,367.3 565.4,368.2 561.4,368.9 557.4,369.5 553.4,370.0 549.4,370.2 545.4,370.2 541.4,370.1 537.4,369.9 533.4,369.5 529.4,369.0 525.4,368.4 521.4,367.8 517.4,367.1 513.4,366.5 509.4,365.8 505.4,365.2 501.4,364.7 497.4,364.3 493.4,364.0 489.4,363.8 485.4,363.8 481.4,364.0 477.4,364.3 473.3,364.7 469.3,365.3 465.3,366.0 461.3,366.8 457.3,367.7 453.3,368.8 449.3,369.9 445.3,371.1 441.3,372.4 437.3,373.8 433.3,375.3 429.3,376.8 425.3,378.3 421.3,380.0 417.3,381.6 413.3,383.3 409.3,385.0 405.3,386.8 401.3,388.5 397.3,390.3 393.3,392.2 389.3,394.0 385.3,395.9 381.3,397.8 377.3,399.7 373.2,401.7 369.2,403.7 365.2,405.7 361.2,407.7 357.2,409.7 353.2,411.7 349.2,413.7 345.2,415.7 341.2,417.7 337.2,419.7 333.2,421.7 329.2,423.7 325.2,425.7 321.2,427.8 317.2,429.8 313.2,431.8 309.2,433.8 305.2,435.8 301.2,437.9 297.2,439.9 293.2,441.9 289.2,443.9 285.2,445.8 281.2,447.8 277.2,449.8 273.1,451.7 269.1,453.7 265.1,455.6 261.1,457.6 257.1,459.5 253.1,461.5 249.1,463.5 245.1,465.5 241.1,467.4 237.1,469.4 233.1,471.4 229.1,473.4 225.1,475.3 221.1,477.3 217.1,479.3 213.1,481.3 209.1,483.2 205.1,485.2 201.1,487.2 197.1,489.2 193.1,491.1 189.1,493.1 185.1,495.1 181.1,497.0 177.1,499.0 173.0,501.0 169.0,502.9 165.0,504.9 161.0,506.9 157.0,508.8 153.0,510.8 149.0,512.7 145.0,514.7 141.0,516.7 137.0,518.6 133.0,520.6 129.0,522.5 125.0,524.5" fill="#d6b4b4"/><g clip-path="url(#cbb)"><polygon points="125.0,410.7 129.0,410.1 133.0,409.5 137.0,408.9 141.0,408.3 145.0,407.7 149.0,407.1 153.0,406.5 157.0,405.9 161.0,405.3 165.0,404.7 169.0,404.1 173.0,403.5 177.1,402.9 181.1,402.3 185.1,401.7 189.1,401.1 193.1,400.6 197.1,400.0 201.1,399.4 205.1,398.8 209.1,398.2 213.1,397.6 217.1,397.0 221.1,396.4 225.1,395.9 229.1,395.3 233.1,394.7 237.1,394.1 241.1,393.5 245.1,392.9 249.1,392.3 253.1,391.7 257.1,391.1 261.1,390.5 265.1,389.9 269.1,389.3 273.1,388.7 277.2,388.0 281.2,387.4 285.2,386.8 289.2,386.2 293.2,385.6 297.2,385.1 301.2,384.5 305.2,383.9 309.2,383.4 313.2,382.8 317.2,382.2 321.2,381.7 325.2,381.1 329.2,380.5 333.2,379.9 337.2,379.3 341.2,378.8 345.2,378.2 349.2,377.6 353.2,377.0 357.2,376.4 361.2,375.8 365.2,375.2 369.2,374.6 373.2,374.0 377.3,373.4 381.3,372.7 385.3,372.0 389.3,371.3 393.3,370.5 397.3,369.7 401.3,368.9 405.3,368.1 409.3,367.2 413.3,366.3 417.3,365.4 421.3,364.4 425.3,363.4 429.3,362.5 433.3,361.5 437.3,360.5 441.3,359.6 445.3,358.7 449.3,357.8 453.3,356.9 457.3,356.2 461.3,355.5 465.3,354.8 469.3,354.3 473.3,353.9 477.4,353.5 481.4,353.3 485.4,353.2 489.4,353.2 493.4,353.4 497.4,353.7 501.4,354.1 505.4,354.6 509.4,355.2 513.4,355.8 517.4,356.4 521.4,357.0 525.4,357.6 529.4,358.1 533.4,358.5 537.4,358.8 541.4,359.0 545.4,359.0 549.4,358.8 553.4,358.4 557.4,357.8 561.4,357.1 565.4,356.1 569.4,354.9 573.4,353.6 577.4,352.1 581.5,350.4 585.5,348.5 589.5,346.5 593.5,344.4 597.5,342.2 601.5,339.8 605.5,337.3 609.5,334.7 613.5,332.0 617.5,329.2 621.5,326.3 625.5,323.4 629.5,320.4 633.5,317.3 637.5,314.1 641.5,310.9 645.5,307.7 649.5,304.5 653.5,301.2 657.5,298.0 661.5,294.7 665.5,291.4 669.5,288.1 673.5,284.8 677.5,281.5 681.6,278.2 685.6,275.0 689.6,271.7 693.6,268.4 697.6,265.0 701.6,261.7 705.6,258.4 709.6,255.0 713.6,251.7 717.6,248.3 721.6,244.9 725.6,241.4 729.6,238.0 733.6,234.6 737.6,231.1 741.6,227.6 745.6,224.1 749.6,220.6 753.6,217.2 757.6,213.7 761.6,210.2 765.6,206.7 769.6,203.2 773.6,199.8 777.6,196.4 781.7,193.0 785.7,189.6 789.7,186.2 793.7,182.8 797.7,179.4 801.7,176.1 805.7,172.7 809.7,169.4 813.7,166.0 817.7,162.7 821.7,159.3 825.7,156.0 829.7,152.6 833.7,149.2 837.7,145.9 841.7,142.5 845.7,139.1 849.7,135.7 853.7,132.3 857.7,128.9 861.7,125.5 865.7,122.0 869.7,118.6 873.7,115.2 877.7,111.8 881.8,108.4 885.8,105.0 889.8,101.6 893.8,98.2 897.8,94.8 901.8,91.4 905.8,88.0 909.8,84.6 913.8,81.2 917.8,77.8 921.8,74.4 925.8,71.0 929.8,67.7 929.8,204.5 925.8,206.2 921.8,208.0 917.8,209.7 913.8,211.4 909.8,213.2 905.8,214.9 901.8,216.7 897.8,218.4 893.8,220.1 889.8,221.9 885.8,223.6 881.8,225.3 877.7,227.0 873.7,228.8 869.7,230.5 865.7,232.2 861.7,233.9 857.7,235.7 853.7,237.4 849.7,239.1 845.7,240.9 841.7,242.6 837.7,244.4 833.7,246.2 829.7,248.0 825.7,249.8 821.7,251.6 817.7,253.4 813.7,255.2 809.7,257.0 805.7,258.8 801.7,260.6 797.7,262.5 793.7,264.3 789.7,266.1 785.7,267.9 781.7,269.7 777.6,271.4 773.6,273.2 769.6,274.9 765.6,276.7 761.6,278.4 757.6,280.1 753.6,281.9 749.6,283.6 745.6,285.3 741.6,287.0 737.6,288.8 733.6,290.5 729.6,292.3 725.6,294.1 721.6,295.9 717.6,297.8 713.6,299.6 709.6,301.5 705.6,303.4 701.6,305.4 697.6,307.3 693.6,309.3 689.6,311.2 685.6,313.2 681.6,315.2 677.5,317.2 673.5,319.2 669.5,321.3 665.5,323.3 661.5,325.3 657.5,327.4 653.5,329.4 649.5,331.5 645.5,333.6 641.5,335.7 637.5,337.8 633.5,339.9 629.5,342.0 625.5,344.1 621.5,346.2 617.5,348.2 613.5,350.2 609.5,352.2 605.5,354.1 601.5,356.0 597.5,357.7 593.5,359.4 589.5,361.0 585.5,362.5 581.5,363.8 577.4,365.1 573.4,366.3 569.4,367.3 565.4,368.2 561.4,368.9 557.4,369.5 553.4,370.0 549.4,370.2 545.4,370.2 541.4,370.1 537.4,369.9 533.4,369.5 529.4,369.0 525.4,368.4 521.4,367.8 517.4,367.1 513.4,366.5 509.4,365.8 505.4,365.2 501.4,364.7 497.4,364.3 493.4,364.0 489.4,363.8 485.4,363.8 481.4,364.0 477.4,364.3 473.3,364.7 469.3,365.3 465.3,366.0 461.3,366.8 457.3,367.7 453.3,368.8 449.3,369.9 445.3,371.1 441.3,372.4 437.3,373.8 433.3,375.3 429.3,376.8 425.3,378.3 421.3,380.0 417.3,381.6 413.3,383.3 409.3,385.0 405.3,386.8 401.3,388.5 397.3,390.3 393.3,392.2 389.3,394.0 385.3,395.9 381.3,397.8 377.3,399.7 373.2,401.7 369.2,403.7 365.2,405.7 361.2,407.7 357.2,409.7 353.2,411.7 349.2,413.7 345.2,415.7 341.2,417.7 337.2,419.7 333.2,421.7 329.2,423.7 325.2,425.7 321.2,427.8 317.2,429.8 313.2,431.8 309.2,433.8 305.2,435.8 301.2,437.9 297.2,439.9 293.2,441.9 289.2,443.9 285.2,445.8 281.2,447.8 277.2,449.8 273.1,451.7 269.1,453.7 265.1,455.6 261.1,457.6 257.1,459.5 253.1,461.5 249.1,463.5 245.1,465.5 241.1,467.4 237.1,469.4 233.1,471.4 229.1,473.4 225.1,475.3 221.1,477.3 217.1,479.3 213.1,481.3 209.1,483.2 205.1,485.2 201.1,487.2 197.1,489.2 193.1,491.1 189.1,493.1 185.1,495.1 181.1,497.0 177.1,499.0 173.0,501.0 169.0,502.9 165.0,504.9 161.0,506.9 157.0,508.8 153.0,510.8 149.0,512.7 145.0,514.7 141.0,516.7 137.0,518.6 133.0,520.6 129.0,522.5 125.0,524.5" fill="#b4a0a8"/></g><polyline points="125.0,396.5 129.0,395.9 133.0,395.3 137.0,394.6 141.0,394.0 145.0,393.4 149.0,392.8 153.0,392.2 157.0,391.5 161.0,390.9 165.0,390.3 169.0,389.7 173.0,389.1 177.1,388.4 181.1,387.8 185.1,387.2 189.1,386.6 193.1,386.0 197.1,385.3 201.1,384.7 205.1,384.1 209.1,383.5 213.1,382.8 217.1,382.2 221.1,381.6 225.1,381.0 229.1,380.4 233.1,379.7 237.1,379.1 241.1,378.5 245.1,377.9 249.1,377.3 253.1,376.6 257.1,376.0 261.1,375.4 265.1,374.8 269.1,374.1 273.1,373.5 277.2,372.9 281.2,372.3 285.2,371.6 289.2,371.0 293.2,370.4 297.2,369.8 301.2,369.2 305.2,368.5 309.2,367.9 313.2,367.3 317.2,366.7 321.2,366.0 325.2,365.4 329.2,364.8 333.2,364.1 337.2,363.5 341.2,362.9 345.2,362.3 349.2,361.6 353.2,361.0 357.2,360.4 361.2,359.8 365.2,359.1 369.2,358.5 373.2,357.9 377.3,357.2 381.3,356.6 385.3,356.0 389.3,355.3 393.3,354.7 397.3,354.1 401.3,353.5 405.3,352.8 409.3,352.2 413.3,351.6 417.3,350.9 421.3,350.3 425.3,349.7 429.3,349.0 433.3,348.4 437.3,347.7 441.3,347.0 445.3,346.4 449.3,345.7 453.3,345.0 457.3,344.2 461.3,343.5 465.3,342.7 469.3,341.9 473.3,341.1 477.4,340.3 481.4,339.4 485.4,338.5 489.4,337.6 493.4,336.6 497.4,335.6 501.4,334.6 505.4,333.5 509.4,332.5 513.4,331.4 517.4,330.2 521.4,329.1 525.4,327.9 529.4,326.8 533.4,325.6 537.4,324.4 541.4,323.2 545.4,322.0 549.4,320.7 553.4,319.5 557.4,318.3 561.4,317.1 565.4,315.9 569.4,314.7 573.4,313.4 577.4,312.2 581.5,311.0 585.5,309.8 589.5,308.6 593.5,307.3 597.5,306.1 601.5,304.9 605.5,303.7 609.5,302.4 613.5,301.2 617.5,300.0 621.5,298.8 625.5,297.5 629.5,296.3 633.5,295.1 637.5,293.9 641.5,292.6 645.5,291.4 649.5,290.2 653.5,289.0 657.5,287.7 661.5,286.5 665.5,285.3 669.5,284.1 673.5,282.9 677.5,281.6 681.6,280.4 685.6,279.2 689.6,278.0 693.6,276.8 697.6,275.5 701.6,274.3 705.6,273.1 709.6,271.9 713.6,270.7 717.6,269.4 721.6,268.2 725.6,267.0 729.6,265.8 733.6,264.6 737.6,263.3 741.6,262.1 745.6,260.9 749.6,259.7 753.6,258.5 757.6,257.3 761.6,256.0 765.6,254.8 769.6,253.6 773.6,252.4 777.6,251.2 781.7,250.0 785.7,248.8 789.7,247.5 793.7,246.3 797.7,245.1 801.7,243.9 805.7,242.7 809.7,241.5 813.7,240.3 817.7,239.0 821.7,237.8 825.7,236.6 829.7,235.4 833.7,234.2 837.7,233.0 841.7,231.8 845.7,230.6 849.7,229.3 853.7,228.1 857.7,226.9 861.7,225.7 865.7,224.5 869.7,223.3 873.7,222.1 877.7,220.9 881.8,219.7 885.8,218.4 889.8,217.2 893.8,216.0 897.8,214.8 901.8,213.6 905.8,212.4 909.8,211.2 913.8,210.0 917.8,208.7 921.8,207.5 925.8,206.3 929.8,205.1" class="lb"/><g clip-path="url(#crb)"><polyline points="125.0,396.5 129.0,395.9 133.0,395.3 137.0,394.6 141.0,394.0 145.0,393.4 149.0,392.8 153.0,392.2 157.0,391.5 161.0,390.9 165.0,390.3 169.0,389.7 173.0,389.1 177.1,388.4 181.1,387.8 185.1,387.2 189.1,386.6 193.1,386.0 197.1,385.3 201.1,384.7 205.1,384.1 209.1,383.5 213.1,382.8 217.1,382.2 221.1,381.6 225.1,381.0 229.1,380.4 233.1,379.7 237.1,379.1 241.1,378.5 245.1,377.9 249.1,377.3 253.1,376.6 257.1,376.0 261.1,375.4 265.1,374.8 269.1,374.1 273.1,373.5 277.2,372.9 281.2,372.3 285.2,371.6 289.2,371.0 293.2,370.4 297.2,369.8 301.2,369.2 305.2,368.5 309.2,367.9 313.2,367.3 317.2,366.7 321.2,366.0 325.2,365.4 329.2,364.8 333.2,364.1 337.2,363.5 341.2,362.9 345.2,362.3 349.2,361.6 353.2,361.0 357.2,360.4 361.2,359.8 365.2,359.1 369.2,358.5 373.2,357.9 377.3,357.2 381.3,356.6 385.3,356.0 389.3,355.3 393.3,354.7 397.3,354.1 401.3,353.5 405.3,352.8 409.3,352.2 413.3,351.6 417.3,350.9 421.3,350.3 425.3,349.7 429.3,349.0 433.3,348.4 437.3,347.7 441.3,347.0 445.3,346.4 449.3,345.7 453.3,345.0 457.3,344.2 461.3,343.5 465.3,342.7 469.3,341.9 473.3,341.1 477.4,340.3 481.4,339.4 485.4,338.5 489.4,337.6 493.4,336.6 497.4,335.6 501.4,334.6 505.4,333.5 509.4,332.5 513.4,331.4 517.4,330.2 521.4,329.1 525.4,327.9 529.4,326.8 533.4,325.6 537.4,324.4 541.4,323.2 545.4,322.0 549.4,320.7 553.4,319.5 557.4,318.3 561.4,317.1 565.4,315.9 569.4,314.7 573.4,313.4 577.4,312.2 581.5,311.0 585.5,309.8 589.5,308.6 593.5,307.3 597.5,306.1 601.5,304.9 605.5,303.7 609.5,302.4 613.5,301.2 617.5,300.0 621.5,298.8 625.5,297.5 629.5,296.3 633.5,295.1 637.5,293.9 641.5,292.6 645.5,291.4 649.5,290.2 653.5,289.0 657.5,287.7 661.5,286.5 665.5,285.3 669.5,284.1 673.5,282.9 677.5,281.6 681.6,280.4 685.6,279.2 689.6,278.0 693.6,276.8 697.6,275.5 701.6,274.3 705.6,273.1 709.6,271.9 713.6,270.7 717.6,269.4 721.6,268.2 725.6,267.0 729.6,265.8 733.6,264.6 737.6,263.3 741.6,262.1 745.6,260.9 749.6,259.7 753.6,258.5 757.6,257.3 761.6,256.0 765.6,254.8 769.6,253.6 773.6,252.4 777.6,251.2 781.7,250.0 785.7,248.8 789.7,247.5 793.7,246.3 797.7,245.1 801.7,243.9 805.7,242.7 809.7,241.5 813.7,240.3 817.7,239.0 821.7,237.8 825.7,236.6 829.7,235.4 833.7,234.2 837.7,233.0 841.7,231.8 845.7,230.6 849.7,229.3 853.7,228.1 857.7,226.9 861.7,225.7 865.7,224.5 869.7,223.3 873.7,222.1 877.7,220.9 881.8,219.7 885.8,218.4 889.8,217.2 893.8,216.0 897.8,214.8 901.8,213.6 905.8,212.4 909.8,211.2 913.8,210.0 917.8,208.7 921.8,207.5 925.8,206.3 929.8,205.1" class="lb" style="stroke:#6253d8"/></g><polyline points="125.0,467.6 129.0,466.3 133.0,465.0 137.0,463.7 141.0,462.5 145.0,461.2 149.0,459.9 153.0,458.6 157.0,457.4 161.0,456.1 165.0,454.8 169.0,453.5 173.0,452.2 177.1,451.0 181.1,449.7 185.1,448.4 189.1,447.1 193.1,445.8 197.1,444.6 201.1,443.3 205.1,442.0 209.1,440.7 213.1,439.4 217.1,438.2 221.1,436.9 225.1,435.6 229.1,434.3 233.1,433.0 237.1,431.8 241.1,430.5 245.1,429.2 249.1,427.9 253.1,426.6 257.1,425.3 261.1,424.0 265.1,422.8 269.1,421.5 273.1,420.2 277.2,418.9 281.2,417.6 285.2,416.3 289.2,415.0 293.2,413.8 297.2,412.5 301.2,411.2 305.2,409.9 309.2,408.6 313.2,407.3 317.2,406.0 321.2,404.7 325.2,403.4 329.2,402.1 333.2,400.8 337.2,399.5 341.2,398.2 345.2,396.9 349.2,395.7 353.2,394.4 357.2,393.1 361.2,391.8 365.2,390.5 369.2,389.2 373.2,387.9 377.3,386.6 381.3,385.3 385.3,383.9 389.3,382.6 393.3,381.3 397.3,380.0 401.3,378.7 405.3,377.4 409.3,376.1 413.3,374.8 417.3,373.5 421.3,372.2 425.3,370.9 429.3,369.6 433.3,368.4 437.3,367.2 441.3,366.0 445.3,364.9 449.3,363.8 453.3,362.9 457.3,362.0 461.3,361.1 465.3,360.4 469.3,359.8 473.3,359.3 477.4,358.9 481.4,358.6 485.4,358.5 489.4,358.5 493.4,358.7 497.4,359.0 501.4,359.4 505.4,359.9 509.4,360.5 513.4,361.1 517.4,361.8 521.4,362.4 525.4,363.0 529.4,363.5 533.4,364.0 537.4,364.3 541.4,364.5 545.4,364.6 549.4,364.5 553.4,364.2 557.4,363.7 561.4,363.0 565.4,362.1 569.4,361.1 573.4,359.9 577.4,358.6 581.5,357.1 585.5,355.5 589.5,353.8 593.5,351.9 597.5,349.9 601.5,347.9 605.5,345.7 609.5,343.5 613.5,341.1 617.5,338.7 621.5,336.3 625.5,333.7 629.5,331.2 633.5,328.6 637.5,326.0 641.5,323.3 645.5,320.7 649.5,318.0 653.5,315.3 657.5,312.7 661.5,310.0 665.5,307.3 669.5,304.7 673.5,302.0 677.5,299.4 681.6,296.7 685.6,294.1 689.6,291.4 693.6,288.8 697.6,286.2 701.6,283.5 705.6,280.9 709.6,278.3 713.6,275.7 717.6,273.0 721.6,270.4 725.6,267.8 729.6,265.2 733.6,262.6 737.6,259.9 741.6,257.3 745.6,254.7 749.6,252.1 753.6,249.5 757.6,246.9 761.6,244.3 765.6,241.7 769.6,239.1 773.6,236.5 777.6,233.9 781.7,231.3 785.7,228.7 789.7,226.1 793.7,223.5 797.7,220.9 801.7,218.4 805.7,215.8 809.7,213.2 813.7,210.6 817.7,208.0 821.7,205.4 825.7,202.9 829.7,200.3 833.7,197.7 837.7,195.1 841.7,192.6 845.7,190.0 849.7,187.4 853.7,184.8 857.7,182.3 861.7,179.7 865.7,177.1 869.7,174.6 873.7,172.0 877.7,169.4 881.8,166.9 885.8,164.3 889.8,161.7 893.8,159.2 897.8,156.6 901.8,154.0 905.8,151.5 909.8,148.9 913.8,146.3 917.8,143.8 921.8,141.2 925.8,138.6 929.8,136.1" class="lr"/><g clip-path="url(#cbb)"><polyline points="125.0,467.6 129.0,466.3 133.0,465.0 137.0,463.7 141.0,462.5 145.0,461.2 149.0,459.9 153.0,458.6 157.0,457.4 161.0,456.1 165.0,454.8 169.0,453.5 173.0,452.2 177.1,451.0 181.1,449.7 185.1,448.4 189.1,447.1 193.1,445.8 197.1,444.6 201.1,443.3 205.1,442.0 209.1,440.7 213.1,439.4 217.1,438.2 221.1,436.9 225.1,435.6 229.1,434.3 233.1,433.0 237.1,431.8 241.1,430.5 245.1,429.2 249.1,427.9 253.1,426.6 257.1,425.3 261.1,424.0 265.1,422.8 269.1,421.5 273.1,420.2 277.2,418.9 281.2,417.6 285.2,416.3 289.2,415.0 293.2,413.8 297.2,412.5 301.2,411.2 305.2,409.9 309.2,408.6 313.2,407.3 317.2,406.0 321.2,404.7 325.2,403.4 329.2,402.1 333.2,400.8 337.2,399.5 341.2,398.2 345.2,396.9 349.2,395.7 353.2,394.4 357.2,393.1 361.2,391.8 365.2,390.5 369.2,389.2 373.2,387.9 377.3,386.6 381.3,385.3 385.3,383.9 389.3,382.6 393.3,381.3 397.3,380.0 401.3,378.7 405.3,377.4 409.3,376.1 413.3,374.8 417.3,373.5 421.3,372.2 425.3,370.9 429.3,369.6 433.3,368.4 437.3,367.2 441.3,366.0 445.3,364.9 449.3,363.8 453.3,362.9 457.3,362.0 461.3,361.1 465.3,360.4 469.3,359.8 473.3,359.3 477.4,358.9 481.4,358.6 485.4,358.5 489.4,358.5 493.4,358.7 497.4,359.0 501.4,359.4 505.4,359.9 509.4,360.5 513.4,361.1 517.4,361.8 521.4,362.4 525.4,363.0 529.4,363.5 533.4,364.0 537.4,364.3 541.4,364.5 545.4,364.6 549.4,364.5 553.4,364.2 557.4,363.7 561.4,363.0 565.4,362.1 569.4,361.1 573.4,359.9 577.4,358.6 581.5,357.1 585.5,355.5 589.5,353.8 593.5,351.9 597.5,349.9 601.5,347.9 605.5,345.7 609.5,343.5 613.5,341.1 617.5,338.7 621.5,336.3 625.5,333.7 629.5,331.2 633.5,328.6 637.5,326.0 641.5,323.3 645.5,320.7 649.5,318.0 653.5,315.3 657.5,312.7 661.5,310.0 665.5,307.3 669.5,304.7 673.5,302.0 677.5,299.4 681.6,296.7 685.6,294.1 689.6,291.4 693.6,288.8 697.6,286.2 701.6,283.5 705.6,280.9 709.6,278.3 713.6,275.7 717.6,273.0 721.6,270.4 725.6,267.8 729.6,265.2 733.6,262.6 737.6,259.9 741.6,257.3 745.6,254.7 749.6,252.1 753.6,249.5 757.6,246.9 761.6,244.3 765.6,241.7 769.6,239.1 773.6,236.5 777.6,233.9 781.7,231.3 785.7,228.7 789.7,226.1 793.7,223.5 797.7,220.9 801.7,218.4 805.7,215.8 809.7,213.2 813.7,210.6 817.7,208.0 821.7,205.4 825.7,202.9 829.7,200.3 833.7,197.7 837.7,195.1 841.7,192.6 845.7,190.0 849.7,187.4 853.7,184.8 857.7,182.3 861.7,179.7 865.7,177.1 869.7,174.6 873.7,172.0 877.7,169.4 881.8,166.9 885.8,164.3 889.8,161.7 893.8,159.2 897.8,156.6 901.8,154.0 905.8,151.5 909.8,148.9 913.8,146.3 917.8,143.8 921.8,141.2 925.8,138.6 929.8,136.1" class="lr" style="stroke:#da4c57"/></g></g>
<line x1="85.0" y1="32.0" x2="85.0" y2="609.5" class="ax"/>
<line x1="85.0" y1="609.5" x2="970" y2="609.5" class="ax"/>
<line x1="1111.0" y1="32.0" x2="1111.0" y2="609.5" class="ax"/>
<line x1="1111.0" y1="609.5" x2="1996.0" y2="609.5" class="ax"/>
<line x1="77.80" y1="58.56" x2="85.00" y2="58.56" class="tk"/>
<text x="73.00" y="67.16" class="yl">30</text>
<line x1="77.80" y1="163.54" x2="85.00" y2="163.54" class="tk"/>
<text x="73.00" y="172.14" class="yl">20</text>
<line x1="77.80" y1="268.52" x2="85.00" y2="268.52" class="tk"/>
<text x="73.00" y="277.12" class="yl">10</text>
<line x1="77.80" y1="373.50" x2="85.00" y2="373.50" class="tk"/>
<text x="73.00" y="382.10" class="yl">0</text>
<line x1="77.80" y1="478.48" x2="85.00" y2="478.48" class="tk"/>
<text x="73.00" y="487.08" class="yl"><tspan dy="1.3">−</tspan><tspan dy="-1.3">10</tspan></text>
<line x1="77.80" y1="583.46" x2="85.00" y2="583.46" class="tk"/>
<text x="73.00" y="592.06" class="yl"><tspan dy="1.3">−</tspan><tspan dy="-1.3">20</tspan></text>
<line x1="1103.80" y1="58.51" x2="1111.00" y2="58.51" class="tk"/>
<text x="1099.00" y="67.11" class="yl">15</text>
<line x1="1103.80" y1="163.49" x2="1111.00" y2="163.49" class="tk"/>
<text x="1099.00" y="172.09" class="yl">10</text>
<line x1="1103.80" y1="268.47" x2="1111.00" y2="268.47" class="tk"/>
<text x="1099.00" y="277.07" class="yl">5</text>
<line x1="1103.80" y1="373.45" x2="1111.00" y2="373.45" class="tk"/>
<text x="1099.00" y="382.05" class="yl">0</text>
<line x1="1103.80" y1="478.43" x2="1111.00" y2="478.43" class="tk"/>
<text x="1099.00" y="487.03" class="yl"><tspan dy="1.3">−</tspan><tspan dy="-1.3">5</tspan></text>
<line x1="1103.80" y1="583.41" x2="1111.00" y2="583.41" class="tk"/>
<text x="1099.00" y="592.01" class="yl"><tspan dy="1.3">−</tspan><tspan dy="-1.3">10</tspan></text>
<line x1="153.59" y1="609.50" x2="153.59" y2="616.70" class="tk"/>
<text x="153.59" y="639.40" class="xl"><tspan dy="1.3">−</tspan><tspan dy="-1.3">20</tspan></text>
<line x1="330.37" y1="609.50" x2="330.37" y2="616.70" class="tk"/>
<text x="330.37" y="639.40" class="xl"><tspan dy="1.3">−</tspan><tspan dy="-1.3">10</tspan></text>
<line x1="507.15" y1="609.50" x2="507.15" y2="616.70" class="tk"/>
<text x="507.15" y="639.40" class="xl">0</text>
<line x1="683.93" y1="609.50" x2="683.93" y2="616.70" class="tk"/>
<text x="683.93" y="639.40" class="xl">10</text>
<line x1="860.71" y1="609.50" x2="860.71" y2="616.70" class="tk"/>
<text x="860.71" y="639.40" class="xl">20</text>
<line x1="1179.59" y1="609.50" x2="1179.59" y2="616.70" class="tk"/>
<text x="1179.59" y="639.40" class="xl"><tspan dy="1.3">−</tspan><tspan dy="-1.3">20</tspan></text>
<line x1="1356.37" y1="609.50" x2="1356.37" y2="616.70" class="tk"/>
<text x="1356.37" y="639.40" class="xl"><tspan dy="1.3">−</tspan><tspan dy="-1.3">10</tspan></text>
<line x1="1533.15" y1="609.50" x2="1533.15" y2="616.70" class="tk"/>
<text x="1533.15" y="639.40" class="xl">0</text>
<line x1="1709.93" y1="609.50" x2="1709.93" y2="616.70" class="tk"/>
<text x="1709.93" y="639.40" class="xl">10</text>
<line x1="1886.71" y1="609.50" x2="1886.71" y2="616.70" class="tk"/>
<text x="1886.71" y="639.40" class="xl">20</text>

<text x="-3.5" y="31.3" class="tag">(a)</text>
<text x="1022.6" y="31.3" class="tag">(b)</text>
<text transform="translate(0.00,672.8) scale(1,1.04)" class="tt"><tspan x="467.2" font-family="Liberation Serif">Δ</tspan><tspan x="485.74" letter-spacing="-0.6">BW</tspan><tspan x="538.3" letter-spacing="-0.4">(kg)</tspan></text>
<text transform="translate(1026.00,672.8) scale(1,1.04)" class="tt"><tspan x="467.2" font-family="Liberation Serif">Δ</tspan><tspan x="485.74" letter-spacing="-0.6">BW</tspan><tspan x="538.3" letter-spacing="-0.4">(kg)</tspan></text>
<text transform="translate(21.10,415) rotate(-90) scale(1,1.04)" class="tt"><tspan x="-1.1" font-family="Liberation Serif">Δ</tspan><tspan x="24.3">S</tspan><tspan dx="-1.8">BP</tspan><tspan x="86" letter-spacing="-0.3">(mmHg)</tspan></text>
<text transform="translate(1047.10,415) rotate(-90) scale(1,1.04)" class="tt"><tspan x="-1.1" font-family="Liberation Serif">Δ</tspan><tspan x="23.7">D</tspan><tspan dx="-1.2">BP</tspan><tspan x="86" letter-spacing="-0.3">(mmHg)</tspan></text>
<text x="964" y="714.9" class="cap">Adjusted to:age=19 BW1=57.4 SBP1=112</text>
<text x="1990" y="714.9" class="cap">Adjusted to:age=19 BW1=57.4 DBP1=62</text>

</svg>
</body></html>
